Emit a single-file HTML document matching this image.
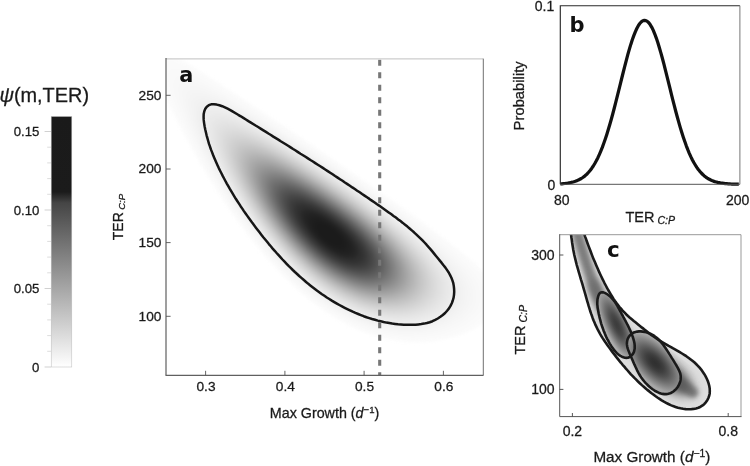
<!DOCTYPE html>
<html lang="en"><head><meta charset="utf-8"><title>Figure</title>
<style>html,body{margin:0;padding:0;background:#fff}svg{display:block;will-change:transform}text{stroke:#1a1a1a;stroke-width:.28px}.lb{stroke:none}</style></head>
<body>
<svg width="750" height="466" viewBox="0 0 750 466">
<defs>
<clipPath id="ca"><rect x="166.0" y="58.6" width="317.0" height="316.7"/></clipPath>
<filter id="bl" color-interpolation-filters="sRGB" x="-5%" y="-5%" width="110%" height="110%"><feGaussianBlur stdDeviation="1.6"/></filter>
<linearGradient id="cb" x1="0" y1="0" x2="0" y2="1">
<stop offset="0.0000" stop-color="#1a1a1a"/>
<stop offset="0.3012" stop-color="#1b1b1b"/>
<stop offset="0.3450" stop-color="#454545"/>
<stop offset="1.0000" stop-color="#ffffff"/>
</linearGradient>
</defs>
<rect width="750" height="466" fill="#fff"/>
<g id="colorbar">
<rect x="51.2" y="116.5" width="20.6" height="250.5" fill="url(#cb)" stroke="#bbb" stroke-width="0.5"/>
<line x1="44.6" x2="51" y1="367" y2="367" stroke="#bdbdbd" stroke-width="0.7"/>
<line x1="47.2" x2="51" y1="351.3" y2="351.3" stroke="#cfcfcf" stroke-width="0.7"/>
<line x1="47.2" x2="51" y1="335.6" y2="335.6" stroke="#cfcfcf" stroke-width="0.7"/>
<line x1="47.2" x2="51" y1="319.9" y2="319.9" stroke="#cfcfcf" stroke-width="0.7"/>
<line x1="47.2" x2="51" y1="304.2" y2="304.2" stroke="#cfcfcf" stroke-width="0.7"/>
<line x1="44.6" x2="51" y1="288.5" y2="288.5" stroke="#bdbdbd" stroke-width="0.7"/>
<line x1="47.2" x2="51" y1="272.8" y2="272.8" stroke="#cfcfcf" stroke-width="0.7"/>
<line x1="47.2" x2="51" y1="257.1" y2="257.1" stroke="#cfcfcf" stroke-width="0.7"/>
<line x1="47.2" x2="51" y1="241.4" y2="241.4" stroke="#cfcfcf" stroke-width="0.7"/>
<line x1="47.2" x2="51" y1="225.7" y2="225.7" stroke="#cfcfcf" stroke-width="0.7"/>
<line x1="44.6" x2="51" y1="210" y2="210" stroke="#bdbdbd" stroke-width="0.7"/>
<line x1="47.2" x2="51" y1="194.3" y2="194.3" stroke="#cfcfcf" stroke-width="0.7"/>
<line x1="47.2" x2="51" y1="178.6" y2="178.6" stroke="#cfcfcf" stroke-width="0.7"/>
<line x1="47.2" x2="51" y1="162.9" y2="162.9" stroke="#cfcfcf" stroke-width="0.7"/>
<line x1="47.2" x2="51" y1="147.2" y2="147.2" stroke="#cfcfcf" stroke-width="0.7"/>
<line x1="44.6" x2="51" y1="131.5" y2="131.5" stroke="#bdbdbd" stroke-width="0.7"/>
<g font-family="'Liberation Sans', Arial, sans-serif" font-size="13.2" fill="#1a1a1a" text-anchor="end">
<text x="39.4" y="371.6">0</text>
<text x="39.4" y="293.1">0.05</text>
<text x="39.4" y="214.6">0.10</text>
<text x="39.4" y="136.1">0.15</text>
</g>
<text x="-0.6" y="102" font-family="'Liberation Sans', Arial, sans-serif" font-size="19.9" fill="#1a1a1a"><tspan font-style="italic">ψ</tspan>(m,TER)</text>
</g>
<g id="panel-a">
<g clip-path="url(#ca)"><g filter="url(#bl)">
<path d="M426.5,342.1L417,342.5 407.5,342.1 398,341.1 388,339.4 379,337.2 369.5,334.2 359.5,330.4 350.5,326.3 341,321.3 332,316 322,309.3 313,302.7 304,295.4 295,287.5 285.6,278.6 276.4,269.1 266.4,258.1 256.3,246.1 245.7,232.6 235.7,219.1 225.7,204.6 216.2,190.1 206.3,174.1 196.3,157.1 185.3,137.1 175.1,117.6 165.7,98.1 158.1,81.1 153,68.1 149.9,58.1 149.2,54.6 148.9,51.6 149.3,49.1 150.1,47.6 151.5,46.7 153.5,46.5 156,46.8 159.5,47.9 168,51.8 180.5,58.8 198.5,69.8 222,84.9 254,105.9 292,131.3 332,158.4 369,183.9 399,204.9 424.5,223.3 444.5,238.3 460.6,251.1 473.4,262.1 483.1,271.6 488.7,278.1 493,284.1 495.9,289.6 497.7,295.1 498.2,300.1 498,302.6 497.4,305.1 496.6,307.6 495.4,310.1 492.4,314.6 487.6,319.6 481.1,324.6 473.5,329.2 465,333.2 456,336.5 446,339.2 436.5,341 426.5,342.1Z" fill="#fbfbfb"/>
<path d="M421,339.6L412,339.7 403,339.2 393.5,338 385,336.3 375.5,333.8 366.5,330.9 357.5,327.3 348,322.8 339,318 330,312.5 321,306.4 311.5,299.3 302.5,291.9 294,284.3 285,275.6 276.3,266.6 266.9,256.1 256.8,244.1 246.6,231.1 236.8,217.6 226.8,203.1 216.8,187.6 207.3,172.1 198.1,156.1 188.7,138.6 179.9,121.1 172.2,104.6 166.4,90.6 162.6,79.6 160.6,71.1 160.3,67.6 160.4,65.1 161,63.1 162,61.6 163.5,60.6 165.5,60.1 168,60.2 171.5,60.9 175.5,62.3 180,64.2 191,69.7 206,78.3 225,89.9 249,105.3 278,124.3 315.5,149.4 353.5,175.3 385,197.4 412,216.8 433.5,232.9 451,246.9 464.5,258.6 475.2,269.1 480.8,275.6 485.4,282.1 488.3,287.6 490.2,293.1 490.7,296.1 490.9,298.6 490.3,303.6 489.5,306.1 488.4,308.6 485.2,313.6 480.5,318.6 474.5,323.3 467,327.8 459,331.5 450,334.7 441,337 431,338.7 421,339.6Z" fill="#fafafa"/>
<path d="M423,337.1L414,337.5 405,337.2 396,336.3 387,334.8 378.5,332.8 369,329.8 360,326.4 351,322.4 342,317.8 332.5,312.2 323.5,306.3 314.5,299.7 305.5,292.5 296.5,284.6 288,276.6 279.1,267.6 269.1,256.6 259.4,245.1 248.7,231.6 239.2,218.6 229.2,204.1 219.8,189.6 210.7,174.6 201.8,159.1 192.7,142.1 184.8,126.1 177.8,110.6 172.8,98.1 169.6,88.1 168,80.1 167.8,76.6 168.1,74.1 168.8,72.1 169.9,70.6 171.5,69.5 173.5,69 176,69 179.5,69.6 183,70.6 187.5,72.3 198,77.2 212,84.9 229.5,95.3 250.5,108.4 276,124.9 310.5,147.8 346.5,172.3 378,194.3 404.5,213.4 425,228.8 442.5,242.7 456.9,255.1 467.6,265.6 473.8,272.6 478.3,278.6 481.8,284.6 484,290.1 485.1,295.6 485,300.6 483.8,305.6 481.6,310.1 477.7,315.1 475.2,317.6 472.2,320.1 466,324.4 458.5,328.3 450.5,331.5 441.5,334.2 432.5,336 423,337.1Z" fill="#f9f9f9"/>
<path d="M413,335.6L404.5,335.4 396,334.6 388,333.3 379,331.2 370.5,328.7 361.5,325.5 353,321.8 344,317.3 335.5,312.5 326.5,306.8 318,300.8 309.5,294.2 301,287 292.5,279.3 284,270.9 275.6,262.1 265.9,251.1 255.6,238.6 246.8,227.1 237.1,213.6 227.7,199.6 218.9,185.6 210.2,171.1 201.9,156.1 193.8,140.6 186.9,126.1 181.3,113.1 177.1,101.6 174.6,92.6 173.6,85.6 173.6,83.1 174,80.6 174.8,78.6 176,77.2 178,76.1 180,75.7 182.5,75.7 186,76.3 189.5,77.2 194,78.9 205,83.9 219,91.4 236,101.4 257,114.4 282.5,130.8 315,152.4 348,174.9 378,195.9 403.5,214.5 424.5,230.4 440.5,243.4 453.7,255.1 464.2,265.6 470.1,272.6 474.7,279.1 477.9,285.1 479.8,290.6 480.6,296.1 480.3,301.1 478.7,306.1 477.5,308.6 475.9,311.1 473.9,313.6 471.5,316.1 468.6,318.6 465.5,320.9 458.5,325.2 450.5,328.8 441.5,331.7 432.5,333.8 422.5,335.1 413,335.6Z" fill="#f8f8f8"/>
<path d="M419.5,333.6L411.5,333.9 403,333.7 394.5,332.8 385.5,331.3 377,329.2 367.5,326.3 358.5,322.8 350,319 341,314.3 332.5,309.3 323.5,303.4 315.5,297.5 307,290.8 298.5,283.4 289.6,275.1 281,266.4 271.1,255.6 261.8,244.6 252.3,232.6 242.7,219.6 233.3,206.1 224.2,192.1 215.7,178.1 207.2,163.1 199.2,148.1 192.2,133.6 186.3,120.1 182,108.6 179.4,99.6 178.6,95.6 178.2,92.1 178.2,89.1 178.6,86.6 179.3,84.6 180.5,83 182.5,81.7 184.5,81.1 187,81 190,81.4 193.5,82.2 197.5,83.5 207.5,87.7 220.5,94.4 235.5,102.9 254.5,114.5 276.5,128.4 307,148.4 338,169.3 367.5,189.9 394.5,209.3 415,224.8 432.5,238.8 446.7,251.1 457.5,261.6 463.8,268.6 468.8,275.1 472.5,281.1 475,286.6 476.4,292.1 476.8,297.1 476,302.1 475.2,304.6 474.1,307.1 472.6,309.6 470.7,312.1 466.3,316.6 460.5,321 453.5,324.9 445.5,328.2 437.5,330.7 429,332.5 419.5,333.6Z" fill="#f7f7f7"/>
<path d="M418,332.1L410,332.4 401.5,332.1 393,331.2 384.5,329.7 375.5,327.5 367,324.8 358,321.4 350,317.8 341.5,313.4 333,308.4 324.5,302.8 315.5,296.3 307,289.5 298.5,282.1 290,274.2 281.5,265.6 271.9,255.1 262.1,243.6 252.7,231.6 243.8,219.6 234.8,206.6 225.7,192.6 217.3,178.6 208.8,163.6 201.2,149.1 194.7,135.6 189.4,123.1 185.4,112.1 183,103.1 182.1,96.1 182.1,93.6 182.5,91.1 183.3,89.1 184.5,87.5 186.5,86.2 188.5,85.7 191,85.5 194,85.8 197.5,86.6 201.5,87.8 211.5,91.9 224,98.2 239.5,106.9 257.5,117.8 279,131.3 308,150.3 338.5,170.9 366.5,190.4 392,208.8 412.5,224.3 429.5,238 442.8,249.6 453.6,260.1 459.9,267.1 464.9,273.6 468.7,279.6 471.5,285.6 473,291.1 473.4,296.1 472.8,301.1 470.9,306.1 469.5,308.6 467.7,311.1 463.4,315.6 458,319.7 451.2,323.6 443.5,326.9 435.5,329.3 427,331.1 418,332.1Z" fill="#f6f6f6"/>
<path d="M418.5,330.6L410.5,331.1 402,330.9 393.5,330.1 385,328.6 376,326.5 367.5,323.9 359.5,320.9 350.5,316.9 341.5,312.3 333,307.3 324.5,301.7 316.5,295.9 308,289.2 300,282.3 291.5,274.4 283.2,266.1 273.5,255.6 263.6,244.1 254.1,232.1 245.2,220.1 236.2,207.1 227.8,194.1 219.3,180.1 211.3,166.1 203.8,151.6 197.3,138.1 192.3,126.1 188.6,115.6 186.3,107.1 185.7,103.6 185.4,100.1 185.6,97.1 186,94.9 186.7,93.1 188,91.4 190,90.1 192,89.5 194.5,89.4 197.5,89.6 201,90.4 205,91.6 214.5,95.4 226.5,101.3 241,109.3 258,119.4 279.5,132.8 306.5,150.4 335.5,169.9 362,188.3 387,206.3 407.5,221.8 424.5,235.4 438.6,247.6 450,258.6 456.4,265.6 461.4,272.1 465.3,278.1 468,283.6 469.8,289.1 470.5,294.1 470.1,299.1 468.6,304.1 467.4,306.6 465.8,309.1 461.9,313.6 456.5,318.1 450.5,321.7 443.5,324.9 435.5,327.6 427.5,329.4 418.5,330.6Z" fill="#f5f5f5"/>
<path d="M414.5,329.6L406.5,329.8 398.5,329.4 390,328.4 382,326.9 373.5,324.7 365,322 357,318.8 348.5,314.9 340,310.4 331.5,305.3 323.5,300 315,293.8 307,287.4 298.5,279.9 290.5,272.4 282.3,264.1 272.7,253.6 263.8,243.1 254.7,231.6 245.8,219.6 237.2,207.1 228.8,194.1 220.3,180.1 212.7,166.6 205.7,153.1 199.8,140.6 194.8,128.6 191.3,118.6 189.2,110.1 188.4,103.6 188.5,100.6 189,98.4 189.7,96.6 191,94.9 193,93.6 195,93 197.5,92.8 200.5,93 204,93.7 208,94.8 217.5,98.6 229.5,104.4 244,112.3 261,122.4 281,134.8 308,152.4 335.5,170.9 362,189.3 387,207.4 406.5,222.2 423.5,235.9 436.8,247.6 447.6,258.1 453.9,265.1 458.9,271.6 462.7,277.6 465.6,283.6 467.3,289.1 467.9,294.1 467.4,299.1 465.8,304.1 464.4,306.6 462.8,309.1 458.7,313.6 453.5,317.7 447,321.5 440,324.5 432,326.9 423.5,328.7 414.5,329.6Z" fill="#f4f4f4"/>
<path d="M411,328.6L403,328.6 395,328 387,326.9 379,325.2 370.5,322.8 362,319.9 353.5,316.3 346,312.7 338,308.3 329,302.8 321,297.3 313,291.3 305,284.7 297,277.6 289.2,270.1 281.4,262.1 271.9,251.6 262.6,240.6 253.7,229.1 245.3,217.6 236.7,205.1 228.7,192.6 221.3,180.1 213.7,166.6 206.8,153.1 201.3,141.1 196.8,130.1 193.6,120.6 191.7,112.6 191.1,106.1 191.2,103.6 191.7,101.6 192.5,99.6 193.6,98.1 195.5,96.8 197.5,96.1 200,95.8 203,96 206.5,96.6 210.5,97.7 220,101.3 231.5,106.8 246.5,115 264,125.3 283.5,137.4 309.5,154.3 337,172.8 362,190.3 385.5,207.3 404.5,221.8 421.6,235.6 435.2,247.6 445.8,258.1 452,265.1 456.9,271.6 460.7,277.6 463.4,283.6 465,289.1 465.5,294.1 464.9,299.1 464.2,301.6 463.1,304.1 461.7,306.6 460,309.1 455.7,313.6 450,317.8 443.5,321.3 436,324.3 428.5,326.4 420,327.9 411,328.6Z" fill="#f3f3f3"/>
<path d="M408,327.6L400.5,327.5 392.5,326.7 384,325.4 376,323.5 368.5,321.3 360,318.2 352,314.8 344,310.8 336,306.3 328,301.3 320,295.7 312.5,290 304.5,283.4 296.5,276.2 288.6,268.6 280.9,260.6 271.9,250.6 262.7,239.6 253.7,228.1 245.7,217.1 237.2,204.6 229.3,192.1 221.9,179.6 214.7,166.6 208.4,154.1 202.9,142.1 198.7,131.6 195.6,122.1 194,114.6 193.5,108.3 193.8,105.6 194.4,103.6 195.1,102.1 196.4,100.6 198,99.5 200.5,98.7 203,98.5 206,98.7 209.5,99.4 213.5,100.5 223.5,104.4 236,110.5 250.5,118.4 267.5,128.4 287.5,140.9 313.5,157.8 339.5,175.4 364.5,192.9 387,209.4 405,223.2 421,236.3 433.7,247.6 444.2,258.1 450.3,265.1 455.1,271.6 458.8,277.6 461.4,283.6 462.9,289.1 463.3,294.1 462.6,299.1 461.8,301.6 460.7,304.1 459.2,306.6 457.4,309.1 453,313.5 447.5,317.4 441,320.8 433.5,323.7 425.5,325.7 417,327 408,327.6Z" fill="#f2f2f2"/>
<path d="M407,326.6L399.5,326.4 392,325.8 384,324.5 376,322.7 368,320.3 360,317.4 352,313.9 344,310 336,305.5 328,300.5 320,294.9 312,288.8 304,282.1 296.5,275.4 288.9,268.1 281.2,260.1 272.2,250.1 263.9,240.1 255.3,229.1 246.2,216.6 237.7,204.1 230.1,192.1 222.7,179.6 216.1,167.6 209.8,155.1 204.8,144.1 200.7,133.6 197.8,124.6 196.1,117.1 195.7,111.1 195.9,108.6 196.5,106.4 197.4,104.6 198.5,103.3 200.2,102.1 202.5,101.3 205,101 208,101.2 211.5,101.8 215.5,102.9 225,106.5 236.5,111.9 250.5,119.4 267.5,129.3 287,141.4 311.5,157.3 337.5,174.8 362.5,192.3 384.5,208.4 402.5,222.2 418.5,235.3 431.2,246.6 441.7,257.1 447.9,264.1 452.8,270.6 456.5,276.6 459.2,282.6 460.8,288.1 461.2,293.6 460.6,298.6 459.8,301.1 458.7,303.6 455.7,308.1 451.4,312.6 445.9,316.6 439.5,320 432,322.8 424,324.8 415.5,326.1 407,326.6Z" fill="#f1f1f1"/>
<path d="M408.5,325.6L401,325.6 393.5,325.1 385.5,323.9 378,322.3 370.5,320.3 362,317.4 353.5,313.9 346,310.3 338,305.9 330.5,301.3 322.5,295.9 314.5,290 306.5,283.5 298.5,276.5 290.5,268.8 282.9,261.1 274.3,251.6 265.4,241.1 256.8,230.1 248.3,218.6 239.8,206.1 231.8,193.6 224.7,181.6 217.8,169.1 211.7,157.1 206.7,146.1 202.6,135.6 199.7,126.6 198.1,119.1 197.8,113.1 198.1,110.6 198.6,108.6 199.5,106.9 200.6,105.6 202.5,104.3 204.5,103.6 207,103.3 210,103.5 213.5,104.1 217.5,105.1 226.5,108.4 238,113.8 252,121.2 268.5,130.8 286.5,141.9 310.5,157.4 335,173.8 359.5,190.9 381.5,207 399.5,220.7 415.5,233.8 428.3,245.1 439,255.6 445.2,262.6 450.2,269.1 454.3,275.6 456.9,281.1 458.7,286.6 459.3,291.6 459,296.6 458.4,299.1 457.5,301.6 456.3,304.1 454.7,306.6 451,310.7 446,314.8 440,318.2 433,321.2 425.5,323.4 417,324.9 408.5,325.6Z" fill="#efefef"/>
<path d="M404.5,323.1L397.5,323 390,322.3 382,321 374.5,319.3 367,317 359.5,314.3 351.5,310.9 343.5,306.9 335.5,302.4 328.5,298 321,292.8 313,286.7 305.5,280.5 298,273.9 290.5,266.6 283.2,259.1 274.6,249.6 266.2,239.6 258.3,229.6 250.3,218.6 242.7,207.6 234.8,195.1 227.7,183.1 221.4,171.6 215.6,160.1 211,149.6 207.3,140.1 204.7,131.6 203.3,124.6 203.1,119.1 203.4,116.6 204,114.7 204.8,113.1 206,111.6 208,110.3 210,109.6 212.5,109.3 215.5,109.4 219,110 222.5,110.8 231.5,114 242.5,119 255.5,125.8 270.5,134.4 288.5,145.3 310.5,159.4 335,175.8 358,191.9 378.5,206.9 396,220.4 410.9,232.6 423.3,243.6 433.9,254.1 440.1,261.1 445.1,267.6 448.9,273.6 451.9,279.6 453.7,285.1 454.4,290.6 454,295.6 452.7,300.1 450.2,304.6 446.3,309.1 441.3,313.1 435.5,316.4 428.5,319.2 421,321.3 413,322.6 404.5,323.1Z" fill="#ececec"/>
<path d="M408,320.6L401,320.9 393.5,320.6 386,319.7 378.5,318.3 371,316.4 363,313.8 355.5,310.8 348,307.4 340,303.2 332.5,298.8 325,293.9 317.5,288.4 310,282.5 302,275.6 294.5,268.7 287.4,261.6 278.6,252.1 270.4,242.6 262.4,232.6 254.1,221.6 246.1,210.1 238.7,198.6 231.8,187.1 225.7,176.1 220.2,165.1 215.2,154.1 211.7,145.1 209.2,136.6 207.8,129.6 207.6,124.1 207.9,121.6 208.5,119.7 209.3,118.1 210.5,116.6 212.5,115.3 214.4,114.6 217,114.2 219.5,114.3 223,114.8 226.5,115.6 235,118.4 245.5,123 258,129.4 272,137.3 288,146.9 308.5,159.9 331,174.8 352,189.4 372,203.9 389.5,217.3 404.5,229.5 417.2,240.6 427.5,250.6 433.9,257.6 439.2,264.1 443.3,270.1 446.6,276.1 448.8,281.6 450,287.1 450.1,292.1 449.3,296.6 447.5,301.1 444.3,305.6 440.5,309.3 435.5,312.8 429.5,315.7 423,318 415.5,319.7 408,320.6Z" fill="#e9e9e9"/>
<path d="M406.5,318.6L399.5,318.9 392.5,318.6 385.5,317.8 378,316.5 371,314.7 363.5,312.3 356,309.4 348,305.8 340.5,301.9 333,297.5 325,292.3 318,287.2 310.5,281.3 303,274.9 296,268.4 288.6,261.1 280.2,252.1 272.4,243.1 264.3,233.1 256.4,222.6 248.7,211.6 241.9,201.1 235.2,190.1 228.8,178.6 223.2,167.6 218.8,157.6 215.3,148.6 212.9,140.6 211.7,134.1 211.4,128.6 211.7,126.1 212.3,124.1 213,122.6 214.2,121.1 216,119.8 218,119 220.5,118.5 223,118.5 226,118.8 229.5,119.5 237.5,122.1 247.5,126.3 259.5,132.2 272.5,139.4 288.5,148.9 308.5,161.5 329.5,175.4 350.5,189.9 369,203.3 386,216.3 401,228.5 413.1,239.1 423.4,249.1 429.9,256.1 435.2,262.6 439.4,268.6 442.7,274.6 445,280.1 446.2,285.1 446.5,290.1 445.9,294.6 444.3,299.1 441.4,303.6 437.5,307.6 433,310.8 427.5,313.7 421,316 414,317.7 406.5,318.6Z" fill="#e6e6e6"/>
<path d="M399,317.1L392.5,316.9 385.5,316.2 378.5,315 371.5,313.3 364,311 357,308.4 350,305.3 343,301.8 336,297.9 328.5,293.2 321.5,288.4 314,282.7 307,276.9 299.5,270.2 292.6,263.6 285.8,256.6 277.6,247.6 270,238.6 262.2,228.6 255.3,219.1 248.1,208.6 241.7,198.6 235.3,187.6 229.9,177.6 224.7,167.1 220.9,158.1 217.8,149.6 215.9,142.6 214.9,136.6 214.9,131.6 215.2,129.6 215.8,127.6 216.6,126.1 217.9,124.6 219.5,123.5 221.5,122.7 224,122.3 227,122.3 230.5,122.7 234,123.5 242.5,126.3 253,130.9 265,136.9 279,144.8 294,153.7 313,165.8 332.5,178.8 352,192.4 371,206.3 387,218.7 401,230.3 412.5,240.6 422.5,250.6 428.3,257.1 433.3,263.6 437.3,269.6 440.3,275.6 442.3,281.1 443.2,286.1 443.1,291.1 442.1,295.6 439.9,300.1 436.8,304.1 432.5,307.8 427,311.1 421,313.6 414,315.5 406.5,316.7 399,317.1Z" fill="#e3e3e3"/>
<path d="M404.5,315.1L398,315.4 391.5,315.3 384.5,314.6 377.5,313.3 370,311.5 363,309.3 355.5,306.4 348.5,303.3 341,299.4 334,295.4 327,290.9 319,285.2 311.5,279.4 304.5,273.4 297.5,267 290.5,260.1 282.5,251.6 274.6,242.6 267.3,233.6 259.8,223.6 252.7,213.6 245.9,203.1 239.2,192.1 233.7,182.1 228.7,172.1 224.5,162.6 221.3,154.1 219.1,146.6 218,140.1 217.9,135.1 218.8,131.1 219.6,129.6 220.8,128.1 222.5,126.8 224.5,126 227,125.6 229.5,125.5 232.5,125.8 236,126.5 243.5,128.8 253,132.7 264.5,138.3 277.5,145.4 292,153.9 309.5,164.8 328.5,177.4 346.5,189.8 364.5,202.8 381,215.4 394.5,226.4 406.7,237.1 416.5,246.6 422.6,253.1 428,259.6 432.4,265.6 435.9,271.6 438.4,277.1 439.8,282.1 440.4,287.1 440,291.6 438.6,296.1 436.4,300.1 432.9,304.1 428.5,307.5 423.5,310.3 417.5,312.6 411,314.2 404.5,315.1Z" fill="#e0e0e0"/>
<path d="M402.5,313.6L396,313.9 389.5,313.7 383,313 376,311.7 369,309.9 362.5,307.9 355,305 348,301.8 340.5,298 333.5,293.9 326.5,289.4 319.5,284.4 312.5,278.9 305.5,273 298.5,266.7 291.3,259.6 283.3,251.1 275.8,242.6 268.1,233.1 261.3,224.1 254.3,214.1 247.7,204.1 241.4,193.6 235.8,183.6 230.8,173.6 227.1,165.1 224.1,157.1 221.9,149.6 220.8,143.1 220.7,138.1 221,136.1 221.6,134.1 222.4,132.6 223.5,131.2 225,130 227,129.1 229.5,128.6 232,128.5 235,128.8 238.5,129.5 246,131.7 255.5,135.5 266.5,140.8 278.5,147.3 292.5,155.5 310,166.4 327.5,177.9 345.5,190.3 363,203 378.5,214.8 392,225.8 403.8,236.1 413.6,245.6 419.7,252.1 425.2,258.6 429.5,264.6 432.8,270.1 435.4,275.6 437,280.6 437.7,285.6 437.4,290.1 436.2,294.6 434,298.8 430.8,302.6 426.5,306.1 421.5,308.8 415.7,311.1 409.5,312.7 402.5,313.6Z" fill="#dddddd"/>
<path d="M402,312.1L396,312.5 389.5,312.3 383,311.7 376,310.4 369,308.7 362,306.5 355,303.8 348,300.7 340.5,296.8 333.5,292.8 326.5,288.2 319.5,283.2 312.5,277.8 306,272.3 299,265.9 292.5,259.6 284.9,251.6 277.4,243.1 269.6,233.6 262.8,224.6 255.7,214.6 249.8,205.6 243.7,195.6 238.1,185.6 233.3,176.1 229.4,167.1 226.4,159.1 224.4,152.1 223.3,146.1 223.2,141.1 224.1,137.1 225,135.3 226,134 227.5,132.8 229.5,131.9 231.5,131.5 234,131.3 237,131.5 240,132 248,134.2 257,137.8 267.5,142.8 279,148.9 293,157 309,166.9 326.5,178.3 344,190.3 360.5,202.3 375.5,213.7 389.5,225 401,235.1 410.9,244.6 417,251.1 422.5,257.6 426.9,263.6 430.2,269.1 432.8,274.6 434.4,279.6 435.2,284.6 435,289.1 433.8,293.6 431.8,297.6 428.9,301.1 424.8,304.6 420,307.4 414.5,309.6 408.5,311.2 402,312.1Z" fill="#dadada"/>
<path d="M395.5,311.1L389.5,311 383,310.4 376.5,309.4 370,307.8 363.5,305.9 356.5,303.4 350.5,300.8 343.5,297.4 337,293.8 330,289.5 323,284.7 316.5,279.9 309.5,274.2 303,268.5 296.5,262.4 289.7,255.6 282.4,247.6 275.1,239.1 268.3,230.6 261.6,221.6 255.4,212.6 249.3,203.1 243.7,193.6 238.8,184.6 234.4,175.6 230.8,167.1 228.1,159.6 226.4,153.1 225.6,147.6 225.6,143.1 226,141 226.7,139.1 227.5,137.6 228.5,136.5 230,135.3 232,134.4 234.5,133.9 237,133.8 243,134.6 250.5,136.8 259.5,140.4 270,145.3 282,151.8 296,159.9 312,169.8 329.5,181.4 346,192.8 362.5,204.8 377.5,216.4 390,226.7 401.1,236.6 410.7,246.1 416.6,252.6 421.9,259.1 426,265.1 429.1,270.6 431.3,276.1 432.6,281.1 432.9,285.6 432.4,290.1 430.8,294.6 428.1,298.6 424.6,302.1 420.2,305.1 415,307.5 409,309.4 402.5,310.6 395.5,311.1Z" fill="#d7d7d7"/>
<path d="M398.5,309.6L392.5,309.8 386,309.6 379.5,308.8 373,307.5 366.5,305.8 359.5,303.5 353,300.9 346.5,297.9 339.5,294.2 333,290.4 326,285.8 319.5,281.2 312.5,275.7 306,270.2 299.5,264.2 293,257.9 285.6,250.1 278.6,242.1 271.7,233.6 264.8,224.6 258.1,215.1 252.2,206.1 246.2,196.1 241.2,187.1 236.8,178.1 233.3,170.1 230.6,162.6 228.8,156.1 227.9,150.6 227.8,145.6 228.2,143.6 228.8,141.6 230.5,139 232,137.8 234,136.9 236,136.4 238.5,136.2 241.5,136.4 244.5,136.9 251.5,138.7 260,142 270.5,146.8 282,152.9 295,160.3 310.5,169.9 326.5,180.3 342.5,191.3 359,203.2 373.5,214.4 386.5,225 397.4,234.6 406.8,243.6 412.9,250.1 417.9,256.1 422.3,262.1 425.7,267.6 428.3,273.1 429.9,278.1 430.7,282.6 430.6,287.1 429.6,291.6 427.6,295.6 424.8,299.1 421,302.3 416.3,305.1 411,307.2 405,308.7 398.5,309.6Z" fill="#d4d4d4"/>
<path d="M393,308.6L387,308.5 381,307.9 375,306.9 368.5,305.3 362,303.3 355.5,300.9 349.5,298.4 342.5,294.9 336,291.3 329.5,287.2 323,282.8 316.5,277.9 310,272.6 303.5,267 297,260.8 290.8,254.6 283.9,247.1 276.6,238.6 270.3,230.6 263.6,221.6 257.4,212.6 251.6,203.6 246.3,194.6 241.8,186.1 237.7,177.6 234.6,170.1 232.1,163.1 230.6,157.1 229.9,151.6 230,147.1 231,143.6 232.7,141.1 234,140.1 236,139.1 238,138.6 240.5,138.4 243.5,138.6 246.5,139.1 254,141.1 262.5,144.4 273,149.3 284.5,155.3 297.5,162.8 313,172.4 329,182.9 345.5,194.4 360.5,205.3 374.5,216.2 387.1,226.6 397.7,236.1 406.8,245.1 412.7,251.6 417.5,257.6 421.7,263.6 424.8,269.1 427.1,274.6 428.4,279.6 428.7,284.1 428.2,288.6 426.8,292.6 424.3,296.6 420.9,300.1 416.5,303 411.5,305.4 406,307 399.5,308.2 393,308.6Z" fill="#d1d1d1"/>
<path d="M397.5,307.1L391.5,307.4 385.5,307.3 379,306.5 373,305.4 366.5,303.8 360,301.7 353.5,299.2 347,296.3 340.5,292.9 333.5,288.8 327,284.6 320.5,280 314,275 307.5,269.6 301,263.7 294.5,257.4 287.1,249.6 280.1,241.6 273.1,233.1 266.6,224.6 260.3,215.6 254.7,207.1 249.3,198.1 244.3,189.1 240.2,180.6 236.7,172.6 234.3,165.6 232.6,159.1 231.8,153.6 232,149.1 233,145.6 234.8,143.1 236.1,142.1 238,141.2 240,140.7 242.5,140.5 248,141.1 255,142.9 263,145.8 273,150.4 283.5,155.8 296,162.9 310.5,171.7 326,181.8 341.5,192.4 356,202.9 369.5,213.2 382,223.4 392.6,232.6 402,241.6 408.2,248.1 413.3,254.1 417.8,260.1 421.3,265.6 423.8,270.6 425.7,275.6 426.6,280.1 426.8,284.6 426,289.1 424.3,293.1 421.8,296.6 418.5,299.7 414,302.5 409.2,304.6 403.5,306.2 397.5,307.1Z" fill="#cecece"/>
<path d="M395,306.1L389.5,306.3 383.5,306 377.5,305.3 371,304 365,302.4 358.5,300.2 352,297.7 345.5,294.6 339,291.2 332.5,287.4 325.5,282.8 319.5,278.4 313,273.3 306.5,267.8 294.2,256.1 287.1,248.6 280.1,240.6 273.2,232.1 267.1,224.1 261.2,215.6 255.6,207.1 250.2,198.1 245.8,190.1 241.9,182.1 238.7,174.6 236.2,167.6 234.5,161.1 233.7,156.1 233.8,151.6 234.6,148.1 235.4,146.6 236.5,145.2 237.9,144.1 239.5,143.3 241.5,142.7 244,142.5 249.5,143 256.5,144.7 264.5,147.7 274,152 284.5,157.3 297,164.4 311.5,173.2 326.5,183 341.5,193.3 356,203.8 369,213.8 381.5,224 391.9,233.1 400.7,241.6 406.9,248.1 411.9,254.1 416.4,260.1 419.8,265.6 422.3,270.6 424,275.6 424.9,280.1 424.9,284.6 424.1,288.6 422.4,292.6 419.8,296.1 416,299.4 411.5,302 406.5,304 401,305.4 395,306.1Z" fill="#cbcbcb"/>
<path d="M393,305.1L387.5,305.2 381.5,304.8 375.5,304 369.5,302.7 363,300.9 357,298.8 351,296.4 344.5,293.3 338,289.8 331.5,285.9 325.5,281.9 319,277.2 313,272.5 306.5,266.9 300.2,261.1 294.1,255.1 287.5,248.1 280.9,240.6 274.8,233.1 268.3,224.6 262.3,216.1 256.8,207.6 251.7,199.1 247,190.6 243.1,182.6 240.2,175.6 237.7,168.6 236.2,162.6 235.5,157.6 235.6,153.1 236.5,149.6 238.2,147.1 239.5,146.1 241.5,145.1 243.5,144.6 245.5,144.4 251,144.8 258,146.5 266,149.4 275.5,153.7 286.5,159.4 298,165.9 312,174.4 326.5,183.8 341,193.8 355.5,204.3 368.5,214.3 380,223.7 390.7,233.1 399.5,241.6 405.6,248.1 410.6,254.1 414.7,259.6 418.1,265.1 420.5,270.1 422.3,275.1 423.1,279.6 423.2,284.1 422.4,288.1 420.5,292.1 417.8,295.6 414.3,298.6 410,301.1 405,303 399.5,304.4 393,305.1Z" fill="#c8c8c8"/>
<path d="M391.5,304.1L386,304.2 380.5,303.8 375,303 369,301.7 362.5,299.9 356.5,297.8 350.5,295.3 344,292.2 337.5,288.7 331,284.8 319,276.4 312.5,271.2 306.5,266.1 294.5,254.6 287.9,247.6 281.3,240.1 274.8,232.1 268.8,224.1 262.8,215.6 257.6,207.6 252.8,199.6 248.2,191.1 244.6,183.6 241.6,176.6 239.4,170.1 237.8,164.1 237.2,159.1 237.3,154.6 238.4,151.1 240,148.8 241.5,147.7 243,146.9 245,146.4 247.5,146.2 253,146.6 260,148.4 268,151.4 277,155.4 287.5,160.8 299,167.3 313,175.8 327,184.9 341.5,194.9 355,204.7 367.5,214.3 379.4,224.1 389.6,233.1 398.3,241.6 404.4,248.1 409.4,254.1 413.4,259.6 416.7,265.1 419.1,270.1 420.8,275.1 421.5,279.6 421.5,283.6 420.6,287.6 418.8,291.6 416,295.1 412.5,298 408,300.5 403,302.3 397.5,303.5 391.5,304.1Z" fill="#c5c5c5"/>
<path d="M390.5,303.1L385,303.1 379.5,302.7 374,301.9 368,300.6 362,298.9 356,296.8 350,294.3 343.5,291.2 337.5,287.9 331,284 325,280 318.5,275.2 306.5,265.3 294.8,254.1 288.2,247.1 281.7,239.6 275.6,232.1 269.9,224.6 264.3,216.6 258.7,208.1 253.7,199.6 249.6,192.1 246,184.6 243,177.6 240.8,171.1 239.4,165.6 238.8,160.6 238.9,156.6 239.8,153.1 241.5,150.6 243,149.4 244.8,148.6 246.7,148.1 249,147.9 254.5,148.3 261,149.9 269,152.8 278,156.9 288,162 299.5,168.4 312.5,176.3 326.5,185.4 340.5,195 354,204.8 366.5,214.4 378,223.8 387.9,232.6 396.7,241.1 402.3,247.1 407.4,253.1 411.4,258.6 414.8,264.1 417.3,269.1 419,274.1 419.9,278.6 419.9,283.1 419,287.1 417.1,291.1 414.5,294.3 411.1,297.1 407,299.4 402,301.3 396.5,302.5 390.5,303.1Z" fill="#c2c2c2"/>
<path d="M390,302.1L385,302.2 379.5,301.8 373.5,301 368,299.8 362,298.1 356,296 349.5,293.3 343.5,290.4 337,286.9 331,283.3 325,279.2 319,274.9 307,265 295.1,253.6 288.5,246.6 282.4,239.6 276.3,232.1 270.3,224.1 264.7,216.1 259.8,208.6 254.8,200.1 250.7,192.6 247.4,185.6 244.4,178.6 242.2,172.1 240.9,166.6 240.3,161.6 240.6,157.6 241.5,154.5 243.2,152.1 244.5,151.1 246.5,150.2 250.5,149.5 256,150 262.5,151.6 270,154.3 279,158.3 289,163.3 300.5,169.8 313,177.4 327,186.4 340.5,195.7 354,205.5 366,214.8 377,223.8 386.9,232.6 395.1,240.6 400.7,246.6 405.8,252.6 409.9,258.1 413.3,263.6 415.8,268.6 417.5,273.6 418.3,278.1 418.4,282.1 417.6,286.1 415.8,290.1 413.5,293.1 410,296.1 406,298.4 401,300.3 395.5,301.5 390,302.1Z" fill="#bfbfbf"/>
<path d="M390,301.1L385,301.3 379.5,300.9 374,300.2 368,299 362,297.3 356,295.2 350,292.8 344,290 338,286.7 332,283.2 326,279.2 320,274.9 308,265.1 296.5,254.2 289.8,247.1 283.6,240.1 277.9,233.1 272.1,225.6 266.8,218.1 261.2,209.6 256.7,202.1 252.6,194.6 249.2,187.6 246.2,180.6 243.9,174.1 242.5,168.6 241.9,163.6 242,159.6 242.8,156.6 243.6,155.1 244.5,153.9 246,152.7 247.5,151.9 249.5,151.4 251.5,151.1 256.5,151.4 263,152.9 270.5,155.5 279,159.2 288.5,163.9 299.5,170 312,177.5 325,185.8 339,195.4 351.5,204.4 364,214 375,223 384.8,231.6 393.1,239.6 398.8,245.6 403.9,251.6 408,257.1 411.2,262.1 413.8,267.1 415.7,272.1 416.7,276.6 416.9,280.6 416.4,284.6 414.8,288.6 412.5,291.9 409.5,294.7 405.6,297.1 401,299 396,300.3 390,301.1Z" fill="#bcbcbc"/>
<path d="M390,300.1L385,300.3 379.5,300.1 374,299.4 368.5,298.3 363,296.9 357,294.9 351,292.5 345,289.7 339,286.6 333,283.1 327,279.2 321,274.9 315,270.3 309,265.2 297.5,254.4 291,247.6 284.7,240.6 279,233.6 273.2,226.1 267.9,218.6 262.6,210.6 257.8,202.6 253.9,195.6 250.2,188.1 247.5,181.6 245.4,175.6 244,170.1 243.3,165.1 243.5,161.1 244.5,157.6 246,155.4 247.5,154.2 249,153.5 251,152.9 253,152.7 258,152.9 264,154.3 271.5,156.8 279.5,160.3 289,165 299.5,170.7 311.5,177.9 324.5,186.2 338,195.4 350.5,204.4 362,213.2 373,222.1 382.7,230.6 391.1,238.6 396.8,244.6 401.6,250.1 405.8,255.6 409.5,261.1 412.1,266.1 414.1,271.1 415.2,275.6 415.5,279.6 415,283.6 413.6,287.6 411.5,290.7 408.6,293.6 404.8,296.1 400.5,298 395.5,299.3 390,300.1Z" fill="#b9b9b9"/>
<path d="M390,299.1L385,299.4 380,299.3 374.5,298.7 369,297.6 363.5,296.3 357.5,294.3 351.5,292 345.5,289.3 340,286.4 334,283 328,279.2 322,275 316,270.4 310,265.4 298.4,254.6 292.1,248.1 285.9,241.1 279.7,233.6 274.3,226.6 268.9,219.1 263.9,211.6 259.4,204.1 255.2,196.6 251.8,189.6 248.8,182.6 246.7,176.6 245.3,171.1 244.8,166.6 244.9,162.6 245.9,159.1 247.5,156.8 249,155.6 250.5,154.9 252.5,154.4 254.5,154.1 259.5,154.4 265.5,155.8 273,158.4 281,161.8 290,166.3 300,171.8 312,178.9 324.5,186.9 337,195.4 349.5,204.3 361.5,213.5 372,222.1 381.2,230.1 389.6,238.1 395.4,244.1 400.1,249.6 404.4,255.1 407.7,260.1 410.5,265.1 412.6,270.1 413.7,274.6 414.1,278.6 413.7,282.6 412.5,286.3 410.5,289.6 407.6,292.6 404,295.1 400,296.9 395,298.4 390,299.1Z" fill="#b6b6b6"/>
<path d="M390.5,298.1L385.5,298.5 380.5,298.4 375,297.9 369.5,297 364,295.7 358,293.8 352,291.5 346,288.8 340,285.8 334,282.3 322.5,274.6 311,265.5 299.5,254.9 293.3,248.6 287,241.6 281.2,234.6 275.3,227.1 269.6,219.1 264.6,211.6 260.1,204.1 256.3,197.1 252.8,190.1 250.1,183.6 248,177.6 246.7,172.1 246.1,167.6 246.3,163.6 247.2,160.6 249,158.1 250.2,157.1 252,156.3 255.5,155.6 260.5,155.8 266.5,157.1 273.5,159.5 281.5,162.9 290.5,167.3 300.5,172.8 311.5,179.3 324,187.2 336,195.3 348.5,204.3 360,213 370,221.1 379.2,229.1 387.7,237.1 393.5,243.1 398.3,248.6 402.6,254.1 406,259.1 408.9,264.1 410.8,268.6 412.2,273.1 412.7,277.1 412.5,281.1 411.6,284.6 409.8,288.1 407.2,291.1 404,293.6 400,295.6 395.5,297.1 390.5,298.1Z" fill="#b3b3b3"/>
<path d="M385.5,297.6L380.5,297.6 375.5,297.2 370.5,296.4 365,295.2 359,293.4 353.5,291.4 348,289.1 342.5,286.4 337,283.4 331,279.8 319.5,271.7 308.5,262.7 297.4,252.1 291.2,245.6 285.5,239.1 274.9,225.6 269.6,218.1 264.7,210.6 260.2,203.1 256.7,196.6 253.6,190.1 251,183.6 249.1,178.1 248,173.1 247.4,168.6 247.6,165.1 248.5,162 250.2,159.6 251.5,158.5 253,157.8 255,157.2 257,157 262,157.2 268,158.6 275,161 283,164.4 292,168.8 302,174.3 313,180.9 325.5,188.9 338,197.4 350.5,206.4 361.5,214.9 371.5,223.2 380.5,231.1 388.7,239.1 394.3,245.1 399,250.6 403,256.1 406.2,261.1 408.7,266.1 410.3,270.6 411.2,274.6 411.4,278.6 410.8,282.6 409.3,286.1 407,289.4 404,292 400.5,294.1 396,295.9 391,297 385.5,297.6Z" fill="#b0b0b0"/>
<path d="M386.5,296.6L382,296.8 377,296.6 372,295.9 366.5,294.8 361,293.4 355.5,291.5 350,289.3 344,286.5 338,283.3 332.5,280.1 321,272.2 310,263.3 299,253 292.8,246.6 287.1,240.1 281.7,233.6 276.3,226.6 271.3,219.6 266.3,212.1 262.1,205.1 258.3,198.1 255.1,191.6 252.4,185.1 250.5,179.6 249.3,174.6 248.8,170.1 249,166.1 249.9,163.1 251.5,160.9 253,159.7 254.3,159.1 258,158.3 263,158.6 269,159.9 276,162.2 283.5,165.4 292.5,169.8 302,175 313,181.5 324.5,188.8 336.5,197 348,205.2 358.5,213.2 369,221.8 377.9,229.6 386.3,237.6 392,243.6 396.8,249.1 401,254.6 404.3,259.6 406.9,264.6 408.7,269.1 409.7,273.1 410.1,277.1 409.7,281.1 408.5,284.6 406.5,287.8 403.8,290.6 400.5,292.8 396.4,294.6 391.5,296 386.5,296.6Z" fill="#adadad"/>
<path d="M387.5,295.6L383,295.9 378,295.8 373,295.3 367.5,294.4 362,293 356.5,291.2 350.5,288.9 345,286.4 334,280.4 328.5,276.9 322.5,272.7 311.5,264 300.3,253.6 294,247.1 288.1,240.6 282.7,234.1 277.3,227.1 272.3,220.1 267.3,212.6 263.1,205.6 259.2,198.6 256.1,192.1 253.4,185.6 251.6,180.1 250.5,175.1 250,170.6 250.3,167.1 251.4,164.1 252.9,162.1 255.5,160.5 257.5,159.9 259.5,159.6 264.5,159.9 270,161.1 277,163.5 284.5,166.6 293,170.8 302.5,176 313.5,182.5 325,189.8 336,197.2 347.5,205.5 358.5,213.9 367.9,221.6 376.5,229.1 384.5,236.6 389.8,242.1 394.6,247.6 398.9,253.1 402.3,258.1 404.9,262.6 406.9,267.1 408.2,271.6 408.8,275.6 408.6,279.6 407.7,283.1 406,286.2 403.5,289.1 400.2,291.6 396.5,293.4 392,294.8 387.5,295.6Z" fill="#aaaaaa"/>
<path d="M382.5,295.1L378,295.1 373,294.6 368,293.7 362.5,292.4 357.5,290.9 352,288.8 346.5,286.5 341,283.7 330,277.2 319,269.4 308.5,260.7 298,250.6 292.3,244.6 286.6,238.1 276.5,225.1 271.9,218.6 267.3,211.6 263.2,204.6 259.7,198.1 256.9,192.1 254.4,186.1 252.7,180.6 251.7,176.1 251.3,172.1 251.5,168.6 252.5,165.6 254,163.5 255.5,162.3 257,161.6 260.5,160.9 265,161.1 271,162.4 278,164.7 285.5,167.9 294.5,172.3 304,177.5 315.5,184.3 326.5,191.4 338,199.3 349,207.2 359.5,215.4 369,223.2 377.9,231.1 385.6,238.6 390.7,244.1 395.3,249.6 399.1,254.6 402.2,259.6 404.8,264.6 406.5,269.1 407.4,273.1 407.6,277.1 407.1,280.6 405.7,284.1 403.5,287.3 400.5,289.9 396.8,292.1 392.5,293.7 387.5,294.7 382.5,295.1Z" fill="#a7a7a7"/>
<path d="M384.5,294.1L380,294.3 375,294.1 370,293.4 365,292.4 359.5,290.9 354.5,289.2 349,286.9 343.5,284.4 332.5,278.2 321.5,270.7 311,262.3 300.5,252.5 289.4,240.6 278.9,227.6 273.9,220.6 269.2,213.6 265.3,207.1 261.7,200.6 258.7,194.6 256.2,188.6 254.3,183.1 253.1,178.1 252.5,173.6 252.7,170.1 253.6,167.1 255,164.9 256,164.1 257.7,163.1 259.5,162.5 261.5,162.2 266,162.4 271.5,163.5 278,165.5 285,168.4 293.5,172.4 302.5,177.3 313,183.4 324,190.4 335,197.8 346.5,206 357,214 366.5,221.8 374.9,229.1 382.7,236.6 388,242.1 392.8,247.6 396.7,252.6 400.1,257.6 402.9,262.6 404.8,267.1 405.9,271.1 406.4,275.1 406.2,278.6 405.2,282.1 403.5,285.2 400.9,288.1 397.5,290.5 394,292.1 389.5,293.4 384.5,294.1Z" fill="#a4a4a4"/>
<path d="M385.5,293.1L381,293.5 376.5,293.4 371.5,292.9 366.5,292 361.5,290.8 356,289.1 350.5,287 345,284.5 339.5,281.7 334,278.5 323,271.2 312.5,262.9 301.8,253.1 296,247.2 290.5,241.1 285,234.6 279.9,228.1 270.8,215.1 266.8,208.6 262.9,201.6 259.9,195.6 257.4,189.6 255.5,184.1 254.3,179.1 253.7,174.6 253.9,171.1 254.9,168.1 256.2,166.1 257.5,165.1 259,164.3 262.5,163.5 267,163.6 272,164.5 278.5,166.5 285.5,169.4 294,173.4 302.5,177.9 312.5,183.7 323,190.3 334,197.7 345,205.5 355,213.1 364.3,220.6 373,228.1 380.4,235.1 385.8,240.6 390.7,246.1 394.7,251.1 398.2,256.1 401.1,261.1 403.2,265.6 404.4,269.6 405.1,273.6 405.1,277.1 404.4,280.6 403,283.6 400.6,286.6 397.5,289.1 394,290.9 390,292.3 385.5,293.1Z" fill="#a1a1a1"/>
<path d="M382,292.6L377.5,292.7 373,292.4 368,291.6 363,290.5 357.5,288.9 352.5,287.1 342,282.4 331.5,276.4 321,269.1 310.5,260.6 300.4,251.1 289.8,239.6 279.8,227.1 270.8,214.1 266.9,207.6 263.3,201.1 260.4,195.1 258.2,189.6 256.4,184.1 255.3,179.6 254.9,175.6 255.1,172.1 256,169.4 257.5,167.2 260,165.5 263.5,164.7 268,164.8 273.5,165.8 280,167.9 287,170.7 295.5,174.8 304,179.4 314,185.2 324.5,191.9 335.5,199.3 346,206.8 356,214.5 365.3,222.1 373.8,229.6 381.1,236.6 386.3,242.1 391.1,247.6 394.9,252.6 398.2,257.6 400.7,262.1 402.5,266.6 403.6,270.6 404,274.6 403.7,278.1 402.6,281.6 400.7,284.6 398.3,287.1 395,289.3 391,291 386.5,292.1 382,292.6Z" fill="#9e9e9e"/>
<path d="M383.5,291.6L379,291.9 374.5,291.8 370,291.3 365,290.4 360,289.1 355,287.5 349.5,285.3 344.5,283.1 334,277.3 323.5,270.4 313,262.1 302.5,252.5 296.7,246.6 291.3,240.6 281.1,228.1 276.4,221.6 272.1,215.1 268.1,208.6 264.8,202.6 261.8,196.6 259.5,191.1 257.7,185.6 256.6,181.1 256.1,177.1 256.2,173.6 257.1,170.6 258.5,168.5 259.6,167.6 261,166.8 264.5,165.9 269,165.9 274,166.9 280,168.7 287,171.5 295,175.2 303.5,179.7 313,185.2 323.5,191.8 334,198.8 344.5,206.3 354.5,213.9 363.3,221.1 371.4,228.1 378.8,235.1 384.1,240.6 388.6,245.6 392.6,250.6 396.1,255.6 398.7,260.1 400.8,264.6 402.1,268.6 402.8,272.6 402.8,276.1 402,279.6 400.5,282.8 398.2,285.6 395.5,287.7 392,289.5 388,290.8 383.5,291.6Z" fill="#9b9b9b"/>
<path d="M379.5,291.1L375,291.1 370.5,290.7 366,289.9 361,288.7 356,287.2 351,285.3 341,280.7 331,274.9 320.5,267.6 310.5,259.4 300.5,249.9 290.1,238.6 280.2,226.1 271.7,213.6 268.2,207.6 264.9,201.6 262.3,196.1 260.1,190.6 258.7,186.1 257.6,181.6 257.2,177.6 257.4,174.6 258.3,171.6 259.7,169.6 261,168.5 262.5,167.8 266,167 270.5,167.2 275.5,168.1 281.5,170 288.5,172.8 296.5,176.6 305,181.2 314.5,186.7 325,193.4 335.5,200.5 345.5,207.7 355.5,215.3 364.3,222.6 372.2,229.6 379.5,236.6 384.7,242.1 389,247.1 392.8,252.1 396.1,257.1 398.5,261.6 400.2,265.6 401.3,269.6 401.7,273.6 401.4,277.1 400.3,280.6 398.4,283.6 395.8,286.1 392.6,288.1 388.8,289.6 384.5,290.6 379.5,291.1Z" fill="#989898"/>
<path d="M382,290.1L378,290.4 373.5,290.2 369,289.8 364,288.8 359,287.5 354,285.9 344,281.6 333.5,275.9 323,268.8 313,260.9 302.9,251.6 292,240.1 282.3,228.1 273.6,215.6 269.7,209.1 266.4,203.1 263.7,197.6 261.4,192.1 259.8,187.1 258.7,182.6 258.4,178.6 258.6,175.6 259.5,172.6 260.9,170.6 263.5,168.9 267,168.2 271,168.2 276,169.2 282,171 288.5,173.5 296,177 304.5,181.5 314,187 323.5,192.9 334,200 343.5,206.8 353,214 361.5,220.8 369.5,227.8 376.7,234.6 382.1,240.1 386.5,245.1 390.5,250.1 393.7,254.6 396.3,259.1 398.5,263.6 399.8,267.6 400.5,271.6 400.5,275.1 399.7,278.6 398.3,281.6 396.3,284.1 393.5,286.3 390.1,288.1 386.5,289.3 382,290.1Z" fill="#959595"/>
<path d="M377,289.6L373,289.5 368.5,289 364,288.2 359,286.9 349.5,283.5 339.5,278.8 329.5,272.8 319.5,265.6 310,257.7 300.5,248.6 290.5,237.6 281.4,226.1 273.3,214.1 266.8,202.6 264.2,197.1 262.2,192.1 260.8,187.6 259.8,183.1 259.5,179.1 259.8,176.1 260.7,173.6 262,171.8 264.5,170.1 268,169.3 272.5,169.4 277.5,170.4 283.5,172.3 290.5,175.1 298,178.7 306.5,183.2 316,188.8 325.5,194.8 336,201.9 345.5,208.8 354.5,215.7 363.5,223.2 371.3,230.1 378.5,237.1 383.6,242.6 387.8,247.6 391.5,252.6 394.3,257.1 396.7,261.6 398.4,266.1 399.3,270.1 399.5,273.6 398.9,277.1 397.8,280.1 396,282.6 393.3,285.1 390,287 386,288.4 381.5,289.3 377,289.6Z" fill="#929292"/>
<path d="M380,288.6L376,288.8 371.5,288.7 367,288.1 362.5,287.2 353,284.3 343,280 333,274.4 323,267.7 313,259.7 303.1,250.6 292.8,239.6 283.5,228.1 275.1,216.1 271.5,210.1 268.2,204.1 265.6,198.6 263.5,193.6 262,189.1 261,184.6 260.6,180.6 260.8,177.6 261.6,175.1 263,172.9 264,172.1 265.5,171.2 269,170.4 273,170.5 278,171.4 284,173.2 290.5,175.8 298,179.3 305.5,183.3 314.5,188.5 324,194.4 333.5,200.8 343,207.5 352,214.4 360.5,221.3 368.3,228.1 375.2,234.6 380.1,239.6 384.5,244.6 388.5,249.6 391.6,254.1 394.3,258.6 396.2,262.6 397.5,266.6 398.3,270.6 398.3,274.1 397.5,277.6 396,280.6 394,283 391.3,285.1 388,286.8 384,288 380,288.6Z" fill="#8f8f8f"/>
<path d="M381,287.7L377,288.1 373,288 368.5,287.6 364,286.9 359.5,285.8 354.5,284.2 344.5,280.1 334.5,274.8 324.5,268.2 314.5,260.4 304.7,251.6 294.3,240.6 284.8,229.1 276.4,217.1 269.6,205.6 266.9,200.1 264.6,194.6 263.1,190.1 262.1,185.6 261.7,181.6 261.9,178.6 262.7,176.1 264,174.1 265.2,173.1 266.5,172.4 269.5,171.6 273.5,171.5 278,172.3 283.5,173.8 290,176.3 297,179.5 304.5,183.3 313,188.1 322,193.7 331.5,199.9 340.5,206.3 349.5,213 358,219.8 365.9,226.6 372.9,233.1 382.5,243.1 386.6,248.1 389.8,252.6 392.6,257.1 394.6,261.1 396.2,265.1 397.1,269.1 397.3,272.6 396.9,275.6 395.8,278.6 394,281.3 391.6,283.6 388.5,285.5 385,286.8 381,287.7Z" fill="#8c8c8c"/>
<path d="M378.5,287.1L374.5,287.3 370.5,287.2 366,286.6 361.5,285.7 357,284.4 352,282.7 342.5,278.6 333,273.3 323,266.6 313.5,259 303.8,250.1 294,239.6 284.6,228.1 276.7,216.6 270.3,205.6 267.6,200.1 265.6,195.1 264.1,190.6 263.2,186.6 262.8,182.6 263,179.6 263.8,177.1 265.1,175.1 267.5,173.5 270.5,172.7 274.5,172.6 279.5,173.5 285,175.1 291.5,177.6 298.5,180.8 306,184.7 315,189.9 323.5,195.2 333,201.5 342,207.9 350.5,214.4 358.8,221.1 366.3,227.6 373.2,234.1 378.1,239.1 382.5,244.1 386.5,249.1 389.7,253.6 392.3,258.1 394.2,262.1 395.5,266.1 396.1,269.6 396.1,273.1 395.5,276.1 394.2,279.1 392.2,281.6 389.7,283.6 386.5,285.3 382.5,286.5 378.5,287.1Z" fill="#898989"/>
<path d="M380,286.1L376,286.5 372,286.5 368,286.2 363.5,285.5 359,284.4 354,282.9 344.5,279 335,274 325,267.5 315,259.7 305.5,251.1 295.4,240.6 286.3,229.6 278.2,218.1 274.8,212.6 271.4,206.6 268.7,201.1 266.7,196.1 265.2,191.6 264.2,187.6 263.8,183.6 264.1,180.6 264.9,178.1 266.3,176.1 268.5,174.6 271.5,173.7 275.5,173.7 280,174.4 285.5,176 291.5,178.3 298,181.2 305.5,185 314,189.9 323,195.4 332,201.4 340.5,207.4 349,213.8 356.9,220.1 364.5,226.6 371,232.6 380.5,242.6 384.2,247.1 387.5,251.6 390.3,256.1 392.4,260.1 394,264.1 394.8,267.6 395.1,271.1 394.8,274.1 393.9,277.1 392.4,279.6 390,282 387.5,283.7 384,285.1 380,286.1Z" fill="#868686"/>
<path d="M377.5,285.6L373.5,285.8 369.5,285.7 365.5,285.2 361,284.3 352,281.6 342.5,277.5 333,272.2 323.5,265.8 314,258.3 304.5,249.6 294.7,239.1 285.8,228.1 278.2,217.1 271.8,206.1 269.4,201.1 267.4,196.1 266,191.6 265.2,187.6 264.9,184.1 265.2,181.1 266,178.9 267.3,177.1 269.6,175.6 273,174.8 277,174.8 281.5,175.6 287,177.3 293,179.6 300,182.8 307,186.5 315,191 323.5,196.3 332.5,202.3 341,208.3 349.5,214.7 357.4,221.1 364.9,227.6 371.2,233.6 376.1,238.6 380.6,243.6 384.2,248.1 387.4,252.6 389.8,256.6 391.7,260.6 393.2,264.6 393.9,268.1 394,271.6 393.5,274.6 392.3,277.6 390.5,280 388,282.1 385,283.7 381.5,284.9 377.5,285.6Z" fill="#838383"/>
<path d="M378.5,284.6L375,285 371,285.1 367,284.7 362.5,284 358,282.9 353.5,281.5 344,277.6 334.5,272.6 325,266.4 315.5,259 306.2,250.6 296.6,240.6 287.5,229.6 279.7,218.6 273.2,207.6 270.8,202.6 268.7,197.6 267.2,193.1 266.3,189.1 266,185.6 266.2,182.6 267,180.1 268.4,178.1 270.7,176.6 274,175.8 277.5,175.8 282,176.6 287,178 293,180.3 299.5,183.2 306.5,186.8 314.5,191.3 322.5,196.2 331,201.8 339.5,207.7 347.5,213.7 355.5,220.1 363,226.6 369.5,232.6 378.6,242.1 382.3,246.6 385.6,251.1 388.1,255.1 390.2,259.1 391.8,263.1 392.7,266.6 393,270.1 392.7,273.1 391.7,276.1 390.2,278.6 388.2,280.6 385.5,282.4 382.5,283.7 378.5,284.6Z" fill="#808080"/>
<path d="M376,284.1L372.5,284.3 368.5,284.2 364.5,283.7 360,282.8 351,280 342,276.1 332.5,270.8 323.5,264.7 314,257.2 305.2,249.1 295.8,239.1 287.3,228.6 279.7,217.6 273.6,207.1 271.2,202.1 269.4,197.6 268.2,193.6 267.3,189.6 267,186.1 267.3,183.1 268,181.1 269.5,179.1 271.8,177.6 275,176.9 278.5,176.9 283,177.6 288,179.1 294,181.3 300.5,184.3 307.5,187.9 315.5,192.4 324,197.7 332.5,203.3 341,209.4 349,215.5 356.6,221.6 363.4,227.6 369.8,233.6 378.7,243.1 382.3,247.6 385.5,252.1 387.8,256.1 389.8,260.1 391.2,264.1 391.8,267.6 391.9,270.6 391.4,273.6 390.1,276.6 388.5,278.8 386.4,280.6 383.5,282.2 380,283.4 376,284.1Z" fill="#7d7d7d"/>
<path d="M377,283.2L373.5,283.5 369.5,283.5 365.5,283.2 361.5,282.5 357,281.4 352.5,280 343.5,276.3 334.5,271.5 325,265.3 316,258.3 306.9,250.1 297.3,240.1 288.6,229.6 280.9,218.6 274.8,208.1 272.4,203.1 270.5,198.6 269.2,194.6 268.4,190.6 268.1,187.1 268.4,184.1 269.1,182.1 270.5,180.1 272.5,178.8 275.5,178 279,177.9 283.5,178.6 288.5,180 294.5,182.2 300.5,184.9 307.5,188.5 315.5,193 323.5,197.9 339.5,208.8 347.5,214.9 354.7,220.6 361.6,226.6 367.6,232.1 376.6,241.6 383.3,250.1 385.9,254.1 388,258.1 389.6,262.1 390.6,265.6 390.9,269.1 390.6,272.1 389.9,274.6 388.4,277.1 386.5,279.1 383.5,281.1 380.5,282.3 377,283.2Z" fill="#7a7a7a"/>
<path d="M375,282.6L371.5,282.8 368,282.7 364,282.3 360,281.5 351.5,279.1 342.5,275.2 333.5,270.3 324.5,264.4 315.5,257.3 306.5,249.1 297.4,239.6 288.8,229.1 281.5,218.6 275.7,208.6 271.6,199.6 270.3,195.6 269.4,191.6 269.1,188.6 269.3,185.6 270.1,183.1 271.5,181.2 273.5,179.8 276.5,179 280,178.9 284.5,179.6 289.5,181 295,183.1 301,185.8 308,189.3 315.5,193.5 323.5,198.5 331.5,203.7 340,209.8 347.7,215.6 355.1,221.6 362,227.6 367.9,233.1 376.8,242.6 380.4,247.1 383.2,251.1 385.6,255.1 387.6,259.1 388.9,262.6 389.7,266.1 389.9,269.1 389.5,272.1 388.5,274.7 386.9,277.1 384.7,279.1 382,280.7 378.5,282 375,282.6Z" fill="#777777"/>
<path d="M375.5,281.7L372,282.1 368.5,282.1 364.5,281.7 360.5,281 352,278.6 343,274.9 334,270.1 325,264.2 316,257.2 307.5,249.5 298.4,240.1 290.1,230.1 282.7,219.6 276.8,209.6 272.7,200.6 271.4,196.6 270.5,192.6 270.2,189.6 270.4,186.6 271.2,184.1 272.5,182.2 274.5,180.9 277.5,180 281,180 285,180.6 290,181.9 295.5,184 301.5,186.6 308,189.9 315,193.8 323,198.7 338.5,209.2 353.2,220.6 360.2,226.6 366.1,232.1 374.7,241.1 378.5,245.6 381.4,249.6 384,253.6 386.1,257.6 387.5,261.1 388.5,264.6 388.8,268.1 388.5,271.1 387.7,273.6 386.2,276.1 384.2,278.1 382,279.6 379,280.8 375.5,281.7Z" fill="#747474"/>
<path d="M373.5,281.1L370,281.3 366.5,281.2 359,280.1 350.5,277.5 342,273.9 333.5,269.2 324.5,263.3 315.5,256.2 307,248.4 298.1,239.1 290.3,229.6 283.3,219.6 277.5,209.6 275.3,205.1 273.5,200.6 272.2,196.6 271.5,193.1 271.2,190.1 271.5,187.1 272.2,185.1 273.5,183.3 275.5,181.9 278.5,181.1 282,181 286,181.6 290.5,182.8 296,184.8 302,187.5 308.5,190.8 316,195 323.5,199.5 331.5,204.8 339,210.1 353.5,221.4 360.1,227.1 365.9,232.6 374.4,241.6 378.1,246.1 381,250.1 383.5,254.1 385.5,258.1 386.8,261.6 387.6,265.1 387.8,268.1 387.4,271.1 386.5,273.6 384.7,276.1 382.5,278 380,279.4 377,280.5 373.5,281.1Z" fill="#717171"/>
<path d="M374.5,280.1L371.5,280.5 368,280.6 364.5,280.3 360.5,279.7 352,277.5 343.5,274 334.5,269.3 326,263.8 317,256.9 308.5,249.3 299.6,240.1 291.7,230.6 284.5,220.6 278.6,210.6 276.4,206.1 274.6,201.6 273.3,197.6 272.5,194.1 272.3,191.1 272.5,188.1 273.2,186.1 274.5,184.3 276.5,182.9 279.5,182.1 282.5,182 286.5,182.6 291,183.7 296.5,185.7 302.5,188.3 308.5,191.3 315.5,195.2 322.5,199.5 337.5,209.6 351.5,220.4 363.7,231.1 372.4,240.1 376.2,244.6 379.2,248.6 381.8,252.6 383.7,256.1 385.2,259.6 386.2,263.1 386.7,266.1 386.6,269.1 386,271.6 384.8,274.1 383,276.2 380.5,278 377.5,279.3 374.5,280.1Z" fill="#6e6e6e"/>
<path d="M372,279.6L368.5,279.8 365,279.7 357.5,278.4 349.5,276 341,272.3 332.5,267.5 324,261.8 315.5,255 307.5,247.7 299.3,239.1 291.5,229.6 284.8,220.1 279.3,210.6 275.5,202.1 274.2,198.1 273.5,194.6 273.3,191.6 273.6,189.1 274.2,187.1 275.5,185.3 277.5,183.9 280,183.2 283.5,183.1 287.5,183.6 292,184.8 297.5,186.8 303.5,189.4 309.5,192.5 316.5,196.4 324,201 338.5,210.9 352.3,221.6 358.6,227.1 364.5,232.6 373,241.6 379.1,249.6 381.5,253.6 383.3,257.1 384.7,260.6 385.5,264.1 385.7,267.1 385.3,270.1 384.3,272.6 383,274.6 381,276.4 378.5,277.9 375.5,279 372,279.6Z" fill="#6b6b6b"/>
<path d="M373,278.6L370,279 366.5,279 359.5,278.2 351.5,276.1 343,272.7 334.5,268.2 326,262.7 317.5,256.2 309,248.6 300.8,240.1 292.8,230.6 286.1,221.1 280.4,211.6 276.6,203.1 275.3,199.1 274.6,195.6 274.4,192.6 274.6,190.1 275.3,188.1 276.5,186.3 278.5,184.9 281,184.2 284,184.1 288,184.6 292.5,185.7 297.5,187.5 303,189.8 309,192.8 322.5,200.6 337,210.3 350.4,220.6 362.3,231.1 370.9,240.1 377.3,248.1 379.9,252.1 381.8,255.6 383.2,259.1 384.1,262.1 384.6,265.1 384.5,268.1 383.9,270.6 382.6,273.1 380.8,275.1 378.7,276.6 376,277.8 373,278.6Z" fill="#686868"/>
<path d="M370.5,278.1L367.5,278.3 364,278.2 357,277 349,274.6 341,271.1 333,266.7 324.5,261 316.5,254.7 308.5,247.5 300,238.6 292.7,229.6 286.3,220.6 281.1,211.6 277.5,203.6 276.4,200.1 275.6,196.6 275.4,193.6 275.6,191.1 276.3,189.1 277.5,187.4 279.5,186 282,185.2 285,185.1 289,185.6 293.5,186.8 298.5,188.5 304,190.9 310,193.9 316.5,197.5 323.5,201.7 337.5,211.2 350.9,221.6 357.2,227.1 362.6,232.1 370.6,240.6 376.8,248.6 379.4,252.6 381.2,256.1 382.5,259.6 383.3,262.6 383.6,265.6 383.3,268.6 382.4,271.1 381.1,273.1 379,275.1 376.5,276.5 373.5,277.6 370.5,278.1Z" fill="#656565"/>
<path d="M371,277.2L368,277.5 364.5,277.5 357.5,276.5 350,274.4 342,271 334,266.8 325.5,261.2 317.5,255 309.5,247.8 301.5,239.6 294,230.6 287.6,221.6 282.3,212.6 278.7,204.6 277.5,201.1 276.7,197.6 276.5,194.6 276.7,192.1 277.3,190.1 278.5,188.4 280.5,187 283,186.3 286,186.1 289.5,186.6 293.5,187.5 298.5,189.2 304,191.6 309.5,194.3 322.5,201.7 336,210.7 349,220.7 355.4,226.1 360.8,231.1 369,239.6 375.4,247.6 378,251.6 379.8,255.1 381.3,258.6 382.1,261.6 382.5,264.6 382.4,267.1 381.8,269.6 380.5,272 378.5,274.1 376.5,275.4 374,276.4 371,277.2Z" fill="#626262"/>
<path d="M368.5,276.6L362.5,276.6 355.5,275.4 348,273 340,269.5 332,265 324.1,259.6 316.5,253.6 308.9,246.6 301,238.3 293.8,229.6 287.9,221.1 282.9,212.6 279.4,204.6 278.3,201.1 277.7,198.1 277.5,195.6 277.7,193.1 278.4,191.1 279.5,189.5 281.5,188 284,187.3 287,187.2 290.5,187.6 294.5,188.6 299.5,190.3 305,192.7 310.5,195.4 323.5,202.9 337,212 350,222.1 361.1,232.1 369.1,240.6 372.4,244.6 375.3,248.6 377.4,252.1 379.2,255.6 380.5,259.1 381.2,262.1 381.5,265.1 381.2,267.6 380.2,270.1 378.9,272.1 377,273.8 374.5,275.2 371.6,276.1 368.5,276.6Z" fill="#5f5f5f"/>
<path d="M369,275.7L366,275.9 363,275.9 356,274.8 348.5,272.6 341,269.4 333.5,265.3 325.5,260.1 317.5,253.8 310,247.1 302.3,239.1 295.2,230.6 289.2,222.1 284.1,213.6 280.5,205.6 279.4,202.1 278.8,199.1 278.6,196.6 278.8,194.1 279.4,192.1 280.5,190.5 282.5,189.1 284.5,188.4 287.5,188.2 291,188.6 295,189.5 300,191.2 305,193.3 310.5,196 323,203.1 336,211.8 348.5,221.5 359.4,231.1 367.1,239.1 373.5,247.1 375.7,250.6 377.6,254.1 379.1,257.6 380,260.6 380.4,263.6 380.3,266.1 379.6,268.6 378.5,270.6 376.6,272.6 374.5,274 372,275 369,275.7Z" fill="#5c5c5c"/>
<path d="M365.5,275.1L359.5,274.8 352.5,273.3 345.5,270.8 338,267.3 330.5,262.9 323,257.6 315.6,251.6 308.6,245.1 301.1,237.1 294.7,229.1 289.1,221.1 284.6,213.1 281.3,205.6 280.4,202.6 279.8,199.6 279.7,197.1 279.9,195.1 280.5,193.1 281.5,191.6 283.5,190.1 286,189.4 289,189.3 292.5,189.7 296.5,190.7 301.5,192.5 306.5,194.7 312,197.4 324.5,204.6 337.6,213.6 350,223.3 360.7,233.1 368.5,241.6 374,249.1 376,252.6 377.7,256.1 378.7,259.1 379.2,262.1 379.2,265.1 378.7,267.6 377.7,269.6 376,271.6 374,273 371.5,274.1 368.5,274.8 365.5,275.1Z" fill="#595959"/>
<path d="M367,274.1L361.5,274.2 355,273.3 348,271.2 340.5,268 333,263.9 325.5,258.9 318,253.1 310.5,246.3 303.1,238.6 296.4,230.6 290.7,222.6 286,214.6 282.7,207.1 281,201.1 280.8,198.6 281,196.1 281.6,194.1 282.6,192.6 284.5,191.2 286.5,190.6 289.5,190.3 293,190.7 297,191.7 301.5,193.2 311.5,197.7 323.5,204.6 336,213 347.8,222.1 358.4,231.6 366,239.6 371.9,247.1 374.1,250.6 375.9,254.1 377.1,257.1 377.9,260.1 378.2,263.1 378,265.5 377.3,267.6 376.2,269.6 374.5,271.3 372.4,272.6 370,273.5 367,274.1Z" fill="#565656"/>
<path d="M367,273.2L361.5,273.5 355,272.6 348,270.5 341,267.6 333.5,263.6 326,258.7 318.5,252.9 311.5,246.6 304.2,239.1 297.5,231.1 291.7,223.1 287,215.1 283.6,207.6 282.7,204.6 282.1,201.6 281.9,199.1 282.1,197.1 282.7,195.1 283.7,193.6 285.5,192.3 287.5,191.6 290,191.4 293.5,191.7 297.5,192.6 301.5,193.9 306.5,196 311.5,198.4 323,204.9 335,212.9 346.4,221.6 356.6,230.6 363.9,238.1 370,245.6 372.3,249.1 374.3,252.6 375.6,255.6 376.6,258.6 377.1,261.6 377,264.1 376.5,266.3 375.5,268.3 374,270.1 372,271.5 369.5,272.6 367,273.2Z" fill="#535353"/>
<path d="M363.5,272.6L358,272.4 351.5,271 344.5,268.5 337.5,265.2 330.5,261.1 323.5,256.2 316.5,250.5 309.6,244.1 302.6,236.6 296.6,229.1 291.4,221.6 287.2,214.1 284.5,207.6 283.1,202.1 283,199.6 283.3,197.6 284,195.8 285,194.5 287,193.2 289,192.6 292,192.5 295.5,193 299.5,194 303.5,195.4 308.5,197.6 313.5,200.1 325,206.7 337.2,215.1 348.6,224.1 358.4,233.1 365.3,240.6 370.6,247.6 372.6,251.1 374.1,254.1 375.2,257.1 375.8,260.1 376,262.6 375.6,265.1 374.8,267.1 373.2,269.1 371.2,270.6 369.1,271.6 366.5,272.3 363.5,272.6Z" fill="#505050"/>
<path d="M364.5,271.6L359,271.7 353,270.7 346.5,268.7 339.5,265.6 332.5,261.7 325.5,257.1 318.5,251.6 311.5,245.3 304.6,238.1 298.4,230.6 293.1,223.1 288.7,215.6 285.7,208.6 284.3,203.1 284.2,200.6 284.4,198.6 285,197 286,195.6 287.5,194.5 290,193.7 292.5,193.6 296,194 299.5,194.8 303.5,196.2 313,200.5 324,206.7 335.5,214.4 346.5,223 356.1,231.6 363.3,239.1 368.7,246.1 372.5,252.6 373.7,255.6 374.4,258.1 374.8,260.6 374.7,263.1 374,265.6 373,267.4 371.5,268.9 369.5,270.2 367.1,271.1 364.5,271.6Z" fill="#4d4d4d"/>
<path d="M364.5,270.6L359.5,270.9 353.5,270.1 347,268.2 340,265.2 333,261.4 326,256.8 319,251.4 312.5,245.6 305.7,238.6 299.4,231.1 294.1,223.6 290,216.6 287,210.1 285.5,204.6 285.3,202.1 285.5,200.1 286,198.4 287,196.9 288.5,195.7 290.5,195 293,194.7 296,194.9 299.5,195.7 303.5,197 312.5,200.9 323,206.7 334,214 344.6,222.1 354.3,230.6 361.6,238.1 367.2,245.1 371.1,251.6 372.4,254.6 373.2,257.1 373.6,259.6 373.6,262.1 373.2,264.1 372.3,266.1 371,267.6 369,269.1 367,270 364.5,270.6Z" fill="#4a4a4a"/>
<path d="M364,269.6L359,270 353.5,269.3 347,267.5 340.5,264.8 334,261.4 327,256.9 320.1,251.6 313.5,245.8 306.9,239.1 300.9,232.1 295.4,224.6 291.2,217.6 288.3,211.1 286.7,205.6 286.5,203.1 286.7,201.1 287.1,199.6 288,198.1 289.5,196.9 291.5,196.1 294,195.8 297,196.1 300.5,196.8 304,197.9 312.5,201.6 322.5,207.1 333.2,214.1 343.8,222.1 353,230.1 359.9,237.1 365.6,244.1 369.7,250.6 371,253.6 371.9,256.1 372.4,258.6 372.5,261.1 372.1,263.1 371.3,265.1 370.1,266.6 368.5,267.9 366.5,268.9 364,269.6Z" fill="#474747"/>
<path d="M363.5,268.6L361,269 358.5,269.1 353,268.4 347,266.8 340.5,264.1 334,260.7 327,256.2 320.5,251.3 314,245.6 307.6,239.1 301.6,232.1 296.5,225.1 292.3,218.1 289.5,212.1 288,206.6 287.7,204.1 287.9,202.1 288.5,200.3 289.3,199.1 291,197.8 293,197.2 295.5,197 298,197.2 301.5,198 305,199.1 313,202.5 323,208 333,214.6 343,222.1 352,230 359,237.1 364.4,243.6 368.2,249.6 369.6,252.6 370.5,255.1 371.1,257.6 371.3,260.1 371,262.1 370.2,264.1 369.2,265.6 367.5,267 365.5,268 363.5,268.6Z" fill="#444444"/>
<path d="M358.5,268.1L353.5,267.7 348,266.3 342,264.1 336,261.2 330,257.6 323.5,253 317.5,248 311.5,242.4 305.6,236.1 300.4,229.6 296,223.1 292.6,217.1 290.3,211.6 289.1,206.6 289,204.6 289.3,202.6 289.9,201.1 290.7,200.1 292,199.1 294,198.4 296.5,198.2 299.5,198.5 303,199.3 307,200.7 315.5,204.5 325.5,210.3 336,217.4 345.7,225.1 354.4,233.1 360.8,240.1 365.5,246.6 367.2,249.6 368.6,252.6 369.5,255.1 369.9,257.6 370,260.1 369.5,262.1 368.8,263.6 367.5,265.2 365.6,266.6 363.5,267.4 361,267.9 358.5,268.1Z" fill="#414141"/>
<path d="M358,267.1L353,266.7 348,265.6 342,263.4 336,260.5 330,256.9 323.9,252.6 317.8,247.6 312,242.1 306.4,236.1 301.5,230.1 297,223.6 293.7,217.6 291.4,212.1 290.4,207.6 290.5,204 291,202.6 292,201.2 293.5,200.2 295.5,199.6 298,199.4 301,199.8 304.5,200.7 308,201.9 316,205.5 325.5,210.9 335.3,217.6 344.8,225.1 353,232.6 359,239.1 363.9,245.6 365.7,248.6 367.2,251.6 368.1,254.1 368.6,256.6 368.7,259.1 368.3,261.1 367.7,262.6 366.5,264.2 365,265.3 363,266.3 360.5,266.9 358,267.1Z" fill="#3e3e3e"/>
<path d="M360.5,265.7L356,266.1 351,265.5 345.5,263.9 339.5,261.5 333.5,258.3 327.5,254.5 321.5,249.9 315.4,244.6 309.4,238.6 303.9,232.1 299.1,225.6 295.6,219.6 293.1,214.1 291.8,209.1 291.6,207.1 291.8,205.1 292.4,203.6 293.1,202.6 294.4,201.6 296,201 298.5,200.7 301,200.9 307,202.4 314.5,205.5 323,210.1 332.5,216.3 341.5,223.1 349.5,230.1 355.9,236.6 360.9,242.6 364.4,248.1 366.6,253.1 367.2,255.6 367.4,257.6 367.2,259.6 366.5,261.6 365.5,263 364.2,264.1 362.5,265.1 360.5,265.7Z" fill="#3b3b3b"/>
<path d="M359.5,264.6L355.5,265 350.5,264.5 345,262.9 339.5,260.7 333.5,257.6 327.5,253.7 321.5,249.2 315.7,244.1 309.8,238.1 304.7,232.1 300.3,226.1 296.7,220.1 294.3,214.6 293.1,210.1 293.1,206.6 293.6,205.1 294.5,203.8 296,202.7 297.5,202.2 299.5,202 302,202.2 308,203.7 315,206.6 323.5,211.2 332,216.7 340.5,223.1 348.6,230.1 354.6,236.1 359.5,242.1 363.1,247.6 365.3,252.6 365.9,255.1 366,257.1 365.7,259.1 365.2,260.6 364.1,262.1 363,263.1 361.5,264 359.5,264.6Z" fill="#383838"/>
<path d="M357.5,263.7L353.5,263.8 348.5,263.1 343.5,261.5 338,259.2 332.4,256.1 326.5,252.2 321,248 315.5,243.1 310.2,237.6 305.5,232.1 301.2,226.1 297.9,220.6 295.7,215.6 294.6,211.1 294.5,209.1 294.6,207.6 295.2,206.1 295.9,205.1 297.3,204.1 299,203.5 301,203.4 303.5,203.6 309,205 316,207.9 324,212.3 332.5,217.8 340.7,224.1 348.2,230.6 354,236.6 358.9,242.6 362,247.6 364.1,252.6 364.5,254.6 364.5,256.6 364.2,258.6 363.5,260.1 362.5,261.4 361,262.5 359.5,263.2 357.5,263.7Z" fill="#353535"/>
<path d="M355.5,262.6L351.5,262.6 347,261.7 342,260.1 336.5,257.6 331.3,254.6 326,251 320.5,246.7 315.5,242.1 310.5,237 306,231.6 302.1,226.1 299,220.6 296.9,215.6 296,211.6 296.2,208.6 296.6,207.6 297.5,206.3 299,205.4 300.5,204.9 302.5,204.8 305,205 310.5,206.5 317.5,209.6 325,213.7 333.1,219.1 340.9,225.1 348.2,231.6 353.9,237.6 358.2,243.1 361.1,248.1 362.7,252.6 363,254.6 362.9,256.6 362.6,258.1 361.7,259.6 360.8,260.6 359.2,261.6 357.5,262.2 355.5,262.6Z" fill="#323232"/>
<path d="M355.5,261.2L352,261.4 347.5,260.8 342.5,259.3 337.5,257.2 332,254.2 327,250.9 322,247 317,242.6 312.1,237.6 307.4,232.1 303.4,226.6 300.5,221.6 298.6,217.1 297.6,213.1 297.8,210.1 298.1,209.1 299,207.8 300.5,206.8 302,206.4 304,206.3 306,206.5 311.5,207.9 317.5,210.5 324.5,214.3 332,219.2 339.2,224.6 346.1,230.6 351.5,236.1 355.6,241.1 358.8,246.1 360.8,250.6 361.3,252.6 361.4,254.6 361.3,256.1 360.7,257.6 359.7,259.1 358.5,260 355.5,261.2Z" fill="#2f2f2f"/>
<path d="M354,258.6L351,259.1 347,258.7 342.5,257.5 338,255.7 333,253.1 328.5,250.3 323.5,246.6 318.9,242.6 314.3,238.1 309.9,233.1 306.3,228.1 303.5,223.6 301.5,219.1 300.6,215.6 300.7,212.6 301.7,210.6 302.5,209.9 304,209.3 305.5,209.1 307.5,209.1 312,210.1 318,212.5 324,215.6 331,220.1 337.5,224.9 343.5,230.1 348.6,235.1 352.8,240.1 355.8,244.6 357.7,248.6 358.4,252.1 358.4,253.6 358.1,255.1 357.5,256.2 356.5,257.3 354,258.6Z" fill="#2b2b2b"/>
<path d="M353.5,258.1L350.5,258.6 346.5,258.2 342.5,257.1 338,255.4 333.5,253.1 328.5,249.9 324,246.6 319,242.3 314.5,237.9 310.3,233.1 306.7,228.1 304,223.6 302.2,219.6 301.3,216.1 301.4,213.1 302.4,211.1 303.5,210.3 305,209.8 308.5,209.8 313,210.9 318.5,213.1 324.5,216.3 331,220.5 337.3,225.1 343.1,230.1 348.1,235.1 352,239.6 355,244.1 357,248.1 357.8,251.6 357.8,253.1 357.5,254.6 357,255.6 356,256.8 354.8,257.6 353.5,258.1Z" fill="#2a2a2a"/>
<path d="M352.5,257.7L349.5,258 345.8,257.6 341.5,256.4 337.2,254.6 332.5,252.1 328,249.2 323.5,245.8 319,242 314.6,237.6 310.7,233.1 307.4,228.6 304.7,224.1 302.9,220.1 301.9,216.6 302,213.7 303,211.7 303.8,211.1 305,210.5 306.5,210.3 308.5,210.3 313,211.3 318.5,213.5 324.5,216.7 331,220.8 337.4,225.6 343.2,230.6 347.7,235.1 351.5,239.6 354.5,244.1 356.4,248.1 357.2,251.6 357.1,253.1 356.7,254.6 356,255.7 355,256.6 352.5,257.7Z" fill="#292929"/>
<path d="M352,257.2L349,257.5 345.5,257.1 341.5,256 337,254.1 333,252 328.4,249.1 323.7,245.6 319.5,242 315.5,238.1 311.5,233.5 308.2,229.1 305.4,224.6 303.6,220.6 302.6,217.1 302.6,214.6 303.5,212.5 304.5,211.7 305.5,211.2 307,210.9 309,210.9 313,211.8 318,213.7 324,216.8 330.1,220.6 336.3,225.1 342.2,230.1 347.2,235.1 351,239.6 353.7,243.6 355.7,247.6 356.5,251.1 356.4,252.6 356,254.1 355.4,255.1 354.5,256 352,257.2Z" fill="#282828"/>
<path d="M351,256.7L348,256.9 344.5,256.4 340.5,255.2 336.5,253.5 332,251.1 327.5,248.1 323,244.6 319,241.1 315,237.1 311.2,232.6 307.9,228.1 305.6,224.1 303.9,220.1 303.3,217.1 303.5,214.6 304.5,212.8 305.6,212.1 307,211.7 310,211.7 314.5,212.7 319.5,214.8 325,217.7 331,221.6 337,226.1 342.8,231.1 347.2,235.6 350.9,240.1 353.5,244.1 355.2,248.1 355.8,251.1 355.3,253.6 354.7,254.6 353.7,255.6 352.5,256.3 351,256.7Z" fill="#272727"/>
<path d="M350,256.2L347,256.2 343.5,255.7 339.5,254.4 335.5,252.6 331.1,250.1 327,247.3 322.9,244.1 319,240.7 315,236.6 311.6,232.6 308.7,228.6 306.4,224.6 304.8,221.1 304.1,218.1 304.1,215.6 304.4,214.6 305.1,213.6 306,212.9 307.5,212.4 310.5,212.3 314.5,213.2 319.5,215.2 325,218.1 331.2,222.1 337.1,226.6 342.5,231.3 346.7,235.6 350.4,240.1 352.9,244.1 354.5,247.6 354.9,249.6 355,251.1 354.8,252.6 354.3,253.6 353.5,254.6 352.5,255.4 350,256.2Z" fill="#262626"/>
<path d="M349,255.6L346,255.6 342.5,254.9 339,253.7 335,251.9 331,249.6 326.6,246.6 322.8,243.6 318.9,240.1 315,236.1 311.7,232.1 308.9,228.1 306.9,224.6 305.4,221.1 304.8,218.1 305,215.8 306,214.1 307,213.5 308.1,213.1 311.5,213.1 315.5,214.1 320.5,216.2 326,219.2 332,223.1 337.8,227.6 342.8,232.1 347.1,236.6 350.2,240.6 352.6,244.6 353.9,248.1 354.2,251.1 353.5,253.2 352.7,254.1 351.5,254.9 349,255.6Z" fill="#252525"/>
<path d="M350,254.6L347.5,255 344.5,254.8 341,253.9 337,252.4 333,250.3 329,247.9 325,244.9 321,241.6 316.9,237.6 313.5,233.7 310.4,229.6 308.2,226.1 306.6,222.6 305.7,219.6 305.7,217.1 305.9,216.1 306.5,215.1 307.5,214.3 308.5,213.9 311.5,213.8 315,214.5 319.5,216.2 324.5,218.8 329.9,222.1 335.4,226.1 340.1,230.1 344.3,234.1 347.8,238.1 350.6,242.1 352.4,245.6 353.4,249.1 353.2,251.6 352,253.5 350,254.6Z" fill="#242424"/>
<path d="M348.5,254.1L345.5,254.3 342.5,253.8 339,252.7 335.5,251.2 331.7,249.1 328,246.7 324,243.7 320.5,240.6 317,237.1 313.5,233.1 310.6,229.1 308.6,225.6 307.1,222.1 306.5,219.6 306.6,217.6 306.9,216.6 307.5,215.7 308.3,215.1 309.5,214.7 312.5,214.6 316.5,215.6 320.5,217.2 325.5,219.8 330.7,223.1 336,227.1 340.6,231.1 344.6,235.1 348,239.1 350.3,242.6 351.9,246.1 352.5,249.1 352.4,250.6 352.1,251.6 350.9,253.1 348.5,254.1Z" fill="#232323"/>
<path d="M348.5,253.2L346,253.6 343.5,253.4 340,252.5 336.5,251.1 332.6,249.1 329,246.9 325.2,244.1 321.5,241 318,237.6 314.5,233.6 311.9,230.1 309.7,226.6 308.3,223.6 307.5,220.6 307.5,218.3 308.3,216.6 310,215.6 313,215.4 316.5,216.2 320.5,217.7 325,220 330,223.2 334.7,226.6 339.5,230.6 343.5,234.6 346.6,238.1 349,241.6 350.8,245.1 351.5,247.6 351.5,250.1 351.1,251.1 350.4,252.1 348.5,253.2Z" fill="#222222"/>
<path d="M346.5,252.7L344,252.7 341,252.2 338,251.2 334.5,249.6 327.9,245.6 324.5,243 321,239.9 317.7,236.6 314.7,233.1 312.5,230.1 310.4,226.6 309.1,223.6 308.4,221.1 308.5,219.1 309.1,217.6 310,216.9 311,216.4 313.5,216.3 317,217 321,218.5 325.9,221.1 330.6,224.1 335.3,227.6 339.9,231.6 343.8,235.6 346.7,239.1 348.9,242.6 350.2,245.6 350.6,248.6 350,250.6 348.5,252 346.5,252.7Z" fill="#212121"/>
<path d="M346.5,251.6L344,251.9 341.5,251.6 338.5,250.7 335.5,249.5 332,247.6 328.5,245.4 325,242.8 321.5,239.7 318.4,236.6 315.4,233.1 312.8,229.6 311.1,226.6 310.1,224.1 309.5,221.6 309.6,219.6 310.5,218.2 311.4,217.6 312.5,217.3 315,217.3 318,218 322,219.6 326.5,222.1 330.5,224.6 335.1,228.1 339.2,231.6 342.6,235.1 345.6,238.6 347.5,241.6 349,244.6 349.5,247.1 349.3,249.1 348.4,250.6 346.5,251.6Z" fill="#202020"/>
<path d="M345.5,250.7L343.5,250.9 341,250.6 338,249.8 335,248.6 331.5,246.7 328.5,244.7 322.1,239.6 316.5,233.6 314.2,230.6 312.4,227.6 311.3,225.1 310.7,222.6 310.8,220.6 311.5,219.3 313,218.5 315.5,218.3 318.5,219 322,220.3 326,222.4 330.3,225.1 334.3,228.1 338.4,231.6 341.9,235.1 344.4,238.1 346.4,241.1 347.8,244.1 348.4,246.6 348.1,248.6 347,250 345.5,250.7Z" fill="#1f1f1f"/>
<path d="M344,249.7L342,249.8 340,249.5 337.5,248.8 334.5,247.6 328.5,244 322.5,239.2 317.3,233.6 315.1,230.6 313.6,228.1 312.5,225.6 312,223.6 312,222 312.6,220.6 314,219.7 316,219.5 319,220 322,221.1 326,223.2 329.9,225.6 334,228.6 337.5,231.6 341,235.1 343.5,238.1 345.5,241.1 346.6,243.6 347,245.6 346.8,247.6 345.6,249.1 344,249.7Z" fill="#1e1e1e"/>
<path d="M343.5,248.3L342,248.6 340,248.5 337.5,247.9 335,246.9 329.5,243.9 324,239.6 319,234.6 315.4,229.6 314.2,227.1 313.6,225.1 313.5,223.1 314,221.9 315.2,221.1 317,220.8 319.5,221.2 322.5,222.3 326,224 329.4,226.1 336,231.2 339.1,234.1 341.5,236.8 343.5,239.6 344.8,242.1 345.5,244.1 345.5,246.1 344.6,247.6 343.5,248.3Z" fill="#1d1d1d"/>
<path d="M342,246.8L340.5,247.1 339,247 337,246.6 334.4,245.6 329.1,242.6 324,238.6 319.5,233.8 316.5,229.3 315.6,227.1 315.3,225.6 315.4,224.1 316,223.2 317.1,222.6 319,222.5 321.5,223 324,224 330,227.5 335.8,232.1 340.1,236.6 341.9,239.1 343,241.1 343.7,243.1 343.7,244.6 343.1,246.1 342,246.8Z" fill="#1c1c1c"/>
<path d="M339,245.1L336,244.7 332,243.1 328,240.5 324,237.1 320.8,233.6 318.5,230 317.6,227.1 317.7,226.1 318.3,225.1 319.5,224.6 321,224.6 323,225.1 325.5,226.1 330.5,229.1 335.3,233.1 338.9,237.1 340.2,239.1 341.1,241.1 341.4,242.6 341,244.1 340,244.9 339,245.1Z" fill="#1b1b1b"/>
</g>
<path d="M211.2,104.3L208.8,105.2 206.8,106.7 205.3,108.8 204.3,111.2 203.7,113.9 203.6,116.9 203.7,119.9 204.1,123.1 204.6,126.2 205.2,129.3 205.9,132.3 206.6,135.3 207.4,138.2 208.2,141 209,143.9 210,146.6 210.9,149.4 212,152.1 213,154.8 214.1,157.5 215.2,160.1 216.4,162.8 217.6,165.4 218.8,168.1 220.1,170.7 221.4,173.3 222.7,175.9 224.1,178.5 225.4,181 226.8,183.6 228.3,186.2 229.7,188.7 231.2,191.2 232.7,193.7 234.3,196.3 235.8,198.8 237.4,201.2 239,203.7 240.6,206.2 242.3,208.6 243.9,211.1 245.6,213.5 247.3,215.9 249,218.3 250.8,220.7 252.5,223.1 254.3,225.5 256.1,227.9 257.9,230.2 259.7,232.6 261.5,234.9 263.3,237.2 265.2,239.5 267.1,241.8 268.9,244.1 270.8,246.3 272.7,248.6 274.7,250.8 276.6,253 278.6,255.2 280.6,257.4 282.5,259.5 284.6,261.7 286.6,263.8 288.6,265.9 290.7,267.9 292.8,270 294.9,272 297.1,274 299.2,276 301.4,277.9 303.6,279.8 305.8,281.7 308,283.6 310.3,285.4 312.6,287.2 314.9,289 317.2,290.8 319.6,292.5 322,294.2 324.4,295.8 326.8,297.5 329.3,299 331.8,300.6 334.3,302.1 336.9,303.6 339.4,305 342,306.4 344.7,307.8 347.3,309.1 350,310.4 352.7,311.7 355.4,312.9 358.2,314 360.9,315.1 363.7,316.2 366.5,317.2 369.3,318.1 372.1,319 375,319.8 377.8,320.6 380.7,321.3 383.6,322 386.4,322.6 389.3,323.1 392.2,323.6 395.1,323.9 398,324.3 400.9,324.5 403.8,324.7 406.8,324.8 409.7,324.8 412.6,324.8 415.5,324.7 418.4,324.4 421.3,324.1 424.1,323.6 426.9,323 429.7,322.2 432.5,321.2 435.2,319.9 437.8,318.5 440.4,316.8 442.8,315 445.1,313 447.1,310.7 449,308.4 450.5,305.9 451.8,303.2 452.8,300.5 453.6,297.7 454,294.8 454.2,291.9 454.1,289 453.8,286.1 453.3,283.2 452.4,280.4 451.4,277.7 450.1,275.1 448.7,272.5 447.1,270.1 445.4,267.6 443.5,265.3 441.7,262.9 439.8,260.6 437.9,258.3 436,256 434.1,253.6 432.3,251.4 430.4,249.1 428.4,246.9 426.5,244.7 424.5,242.5 422.5,240.4 420.4,238.3 418.3,236.3 416.2,234.3 414,232.3 411.8,230.4 409.6,228.5 407.4,226.6 405.1,224.8 402.8,222.9 400.5,221.1 398.2,219.4 395.9,217.6 393.5,215.9 391.1,214.1 388.7,212.4 386.3,210.7 383.9,209 381.5,207.3 379.1,205.6 376.7,204 374.3,202.3 371.8,200.6 369.4,198.9 367,197.3 364.5,195.6 362.1,194 359.7,192.3 357.2,190.7 354.8,189 352.3,187.4 349.9,185.7 347.4,184.1 344.9,182.5 342.5,180.8 340,179.2 337.6,177.6 335.1,176 332.6,174.3 330.2,172.7 327.7,171.1 325.2,169.5 322.8,167.9 320.3,166.3 317.8,164.7 315.3,163.1 312.9,161.5 310.4,160 307.9,158.4 305.5,156.8 303,155.2 300.5,153.7 298,152.1 295.6,150.5 293.1,149 290.6,147.4 288.1,145.8 285.7,144.3 283.2,142.7 280.7,141.2 278.3,139.6 275.8,138.1 273.3,136.6 270.9,135 268.4,133.5 265.9,131.9 263.4,130.4 261,128.9 258.5,127.3 256,125.8 253.5,124.2 250.9,122.6 248.4,121.1 245.9,119.5 243.3,117.9 240.8,116.3 238.2,114.8 235.6,113.2 232.9,111.6 230.3,110.1 227.6,108.7 224.9,107.4 222.2,106.2 219.4,105.3 216.6,104.6 213.8,104.2Z" fill="none" stroke="#161616" stroke-width="2.5" stroke-linejoin="round"/>
<line x1="379.7" x2="379.7" y1="59.7" y2="375.3" stroke="#777" stroke-width="3.1" stroke-dasharray="6.1 6.4"/>
</g>
<path d="M166,58.9H483" stroke="#cdcdcd" stroke-width="1.2" fill="none"/>
<path d="M483.3,58.6V375.3" stroke="#707070" stroke-width="1" fill="none"/>
<path d="M166,58.1V375.3" stroke="#666" stroke-width="1.25" fill="none"/>
<path d="M165.5,375.4H483.5" stroke="#606060" stroke-width="1.3" fill="none"/>
<line x1="166" x2="170.6" y1="316.3" y2="316.3" stroke="#555" stroke-width="0.9"/>
<line x1="166" x2="170.6" y1="242.6" y2="242.6" stroke="#555" stroke-width="0.9"/>
<line x1="166" x2="170.6" y1="169" y2="169" stroke="#555" stroke-width="0.9"/>
<line x1="166" x2="170.6" y1="95.3" y2="95.3" stroke="#555" stroke-width="0.9"/>
<line x1="205.6" x2="205.6" y1="375.3" y2="370.8" stroke="#555" stroke-width="0.9"/>
<line x1="284.9" x2="284.9" y1="375.3" y2="370.8" stroke="#555" stroke-width="0.9"/>
<line x1="364.1" x2="364.1" y1="375.3" y2="370.8" stroke="#555" stroke-width="0.9"/>
<line x1="443.4" x2="443.4" y1="375.3" y2="370.8" stroke="#555" stroke-width="0.9"/>
<g font-family="'Liberation Sans', Arial, sans-serif" font-size="13.7" fill="#1a1a1a">
<text x="161.4" y="320.5" text-anchor="end">100</text>
<text x="161.4" y="246.8" text-anchor="end">150</text>
<text x="161.4" y="173.2" text-anchor="end">200</text>
<text x="161.4" y="99.5" text-anchor="end">250</text>
<text x="206" y="390.8" text-anchor="middle">0.3</text>
<text x="285.3" y="390.8" text-anchor="middle">0.4</text>
<text x="364.5" y="390.8" text-anchor="middle">0.5</text>
<text x="443.8" y="390.8" text-anchor="middle">0.6</text>
</g>
<text x="269.8" y="418.4" font-family="'Liberation Sans', Arial, sans-serif" font-size="14.3" fill="#1a1a1a">Max Growth (<tspan font-style="italic">d</tspan><tspan font-size="9.6" dy="-5.2">−1</tspan><tspan dy="5.2">)</tspan></text>
<text transform="translate(123.1,240.2) rotate(-90)" font-family="'Liberation Sans', Arial, sans-serif" font-size="14" fill="#1a1a1a">TER<tspan font-style="italic" font-size="9.6" dx="2.4" dy="2.2">C:P</tspan></text>
<text x="179.3" y="82.4" font-family="'DejaVu Sans', sans-serif" class="lb" font-weight="bold" font-size="20.8" fill="#111">a</text>
</g>
<g id="panel-b">
<path d="M560.3,183.9L561.8,183.8 563.3,183.6 564.8,183.5 566.3,183.3 567.8,183.1 569.3,182.8 570.8,182.5 572.3,182.2 573.8,181.8 575.3,181.3 576.8,180.7 578.3,180.1 579.8,179.3 581.3,178.5 582.8,177.5 584.3,176.4 585.8,175.1 587.3,173.7 588.8,172 590.3,170.2 591.8,168.2 593.3,166 594.8,163.5 596.3,160.8 597.8,157.9 599.3,154.6 600.8,151.1 602.3,147.4 603.8,143.3 605.3,139 606.8,134.4 608.3,129.6 609.8,124.5 611.3,119.2 612.8,113.7 614.3,108 615.8,102.2 617.3,96.2 618.8,90.2 620.3,84.1 621.8,78 623.3,72 624.8,66.1 626.3,60.3 627.8,54.7 629.3,49.4 630.8,44.4 632.3,39.8 633.8,35.6 635.3,31.8 636.8,28.5 638.3,25.7 639.8,23.5 641.3,21.9 642.8,20.8 644.3,20.4 645.8,20.6 647.3,21.4 648.8,22.8 650.3,24.8 651.8,27.3 653.3,30.4 654.8,34 656.3,38.1 657.8,42.5 659.3,47.4 660.8,52.6 662.3,58 663.8,63.7 665.3,69.6 666.8,75.6 668.3,81.6 669.8,87.7 671.3,93.8 672.8,99.8 674.3,105.7 675.8,111.5 677.3,117 678.8,122.4 680.3,127.6 681.8,132.5 683.3,137.2 684.8,141.6 686.3,145.8 687.8,149.7 689.3,153.3 690.8,156.6 692.3,159.7 693.8,162.5 695.3,165 696.8,167.4 698.3,169.5 699.8,171.3 701.3,173 702.8,174.5 704.3,175.9 705.8,177.1 707.3,178.1 708.8,179 710.3,179.8 711.8,180.5 713.3,181.1 714.8,181.6 716.3,182 717.8,182.4 719.3,182.7 720.8,183 722.3,183.2 723.8,183.4 725.3,183.6 726.8,183.7 728.3,183.8 729.8,183.9 731.3,184 732.8,184 734.3,184.1 735.8,184.1 737.3,184.2 738.8,184.2" fill="none" stroke="#111" stroke-width="3.25" stroke-linejoin="round" stroke-linecap="butt"/>
<path d="M560.3,184.3V5.7H739.9" stroke="#2a2a2a" stroke-width="1.15" fill="none"/>
<path d="M739.9,5.7V184.3" stroke="#777" stroke-width="1" fill="none"/>
<path d="M560.3,184.3H739.9" stroke="#555" stroke-width="1" fill="none"/>
<g font-family="'Liberation Sans', Arial, sans-serif" font-size="14" fill="#1a1a1a">
<text x="554.2" y="10.6" text-anchor="end">0.1</text>
<text x="555.2" y="190.2" text-anchor="end">0</text>
<text x="561.8" y="204.6" text-anchor="middle">80</text>
<text x="726" y="204.6">200</text>
</g>
<text x="625.4" y="221.6" font-family="'Liberation Sans', Arial, sans-serif" font-size="14.5" fill="#1a1a1a">TER<tspan font-style="italic" font-size="10.6" dx="3" dy="2.6">C:P</tspan></text>
<text transform="translate(523.6,130.4) rotate(-90)" font-family="'Liberation Sans', Arial, sans-serif" font-size="14.8" fill="#1a1a1a">Probability</text>
<text x="569.4" y="31.5" font-family="'DejaVu Sans', sans-serif" class="lb" font-weight="bold" font-size="21" fill="#111">b</text>
</g>
<g id="panel-c">
<defs>
<clipPath id="cc"><rect x="559.7" y="234.7" width="181.29999999999995" height="181.90000000000003"/></clipPath>
<clipPath id="cban"><path d="M567.8,215L568.3,217.5 568.8,219.9 569.2,222.4 569.6,224.9 570,227.4 570.4,229.9 570.7,232.5 571.1,235 571.4,237.5 571.8,240 572.1,242.5 572.5,245 572.9,247.5 573.3,250 573.8,252.5 574.3,255 574.9,257.5 575.5,259.9 576.1,262.4 576.7,264.8 577.4,267.2 578.1,269.7 578.8,272.1 579.5,274.5 580.2,276.9 580.9,279.3 581.7,281.8 582.4,284.2 583.1,286.6 583.8,289.1 584.5,291.5 585.2,293.9 585.9,296.4 586.6,298.8 587.3,301.3 588,303.7 588.7,306.2 589.5,308.6 590.2,311 591,313.4 591.9,315.8 592.7,318.2 593.6,320.5 594.6,322.8 595.6,325.2 596.7,327.4 597.8,329.7 599,331.9 600.2,334.1 601.5,336.3 602.8,338.4 604.2,340.5 605.6,342.6 607.1,344.7 608.6,346.8 610.1,348.8 611.6,350.9 613.1,352.9 614.7,354.9 616.2,356.9 617.8,358.9 619.4,360.9 621,362.8 622.6,364.8 624.3,366.7 625.9,368.6 627.6,370.5 629.2,372.4 630.9,374.3 632.7,376.1 634.4,377.9 636.2,379.7 638,381.5 639.8,383.2 641.6,384.9 643.5,386.6 645.4,388.2 647.3,389.9 649.3,391.4 651.2,393 653.3,394.5 655.3,396 657.4,397.5 659.5,398.9 661.7,400.3 663.9,401.6 666.1,402.8 668.4,404 670.7,405.1 673.1,406.1 675.5,406.9 678,407.7 680.5,408.3 683.1,408.8 685.7,409.1 688.4,409.2 691,409.2 693.5,408.9 696,408.4 698.4,407.7 700.6,406.7 702.6,405.4 704.4,403.9 706,402.1 707.3,400.2 708.4,398 709.2,395.8 709.7,393.4 709.8,391 709.7,388.5 709.3,386 708.6,383.4 707.8,381 706.7,378.5 705.5,376.1 704.2,373.9 702.7,371.7 701.2,369.6 699.6,367.7 697.9,365.8 696.1,364 694.3,362.3 692.4,360.7 690.4,359.2 688.4,357.7 686.3,356.2 684.2,354.8 682,353.5 679.8,352.2 677.6,350.9 675.4,349.6 673.2,348.4 671,347.1 668.7,345.9 666.5,344.6 664.3,343.3 662.1,342 659.9,340.7 657.8,339.4 655.7,338 653.6,336.5 651.6,335.1 649.6,333.6 647.6,332.1 645.7,330.5 643.7,328.9 641.7,327.4 639.7,325.8 637.8,324.2 635.8,322.6 633.8,321 631.8,319.3 629.9,317.7 628,316 626.1,314.2 624.4,312.4 622.6,310.6 621,308.7 619.3,306.8 617.8,304.8 616.3,302.8 614.8,300.7 613.4,298.6 612.1,296.5 610.8,294.4 609.5,292.2 608.2,290 607,287.8 605.8,285.5 604.6,283.3 603.5,281 602.4,278.8 601.3,276.5 600.2,274.2 599.1,271.9 598.1,269.6 597.1,267.3 596.1,264.9 595.1,262.6 594.1,260.3 593.1,257.9 592.2,255.6 591.3,253.2 590.4,250.8 589.5,248.5 588.6,246.1 587.7,243.7 586.8,241.3 586,238.9 585.1,236.6 584.3,234.2 583.5,231.8 582.7,229.4 581.9,227 581.1,224.6 580.3,222.2 579.5,219.8 578.7,217.4 577.9,215Z"/></clipPath>
<clipPath id="ce1"><path d="M600.7,292.5L599.7,293.3 598.9,294.5 598.3,295.9 597.9,297.6 597.5,299.3 597.4,300.9 597.3,302.6 597.3,304.3 597.5,305.9 597.6,307.6 597.9,309.2 598.2,310.8 598.5,312.4 598.8,314 599.2,315.6 599.5,317.1 599.9,318.7 600.3,320.2 600.7,321.8 601.1,323.3 601.6,324.8 602.1,326.3 602.6,327.7 603.1,329.2 603.6,330.7 604.2,332.1 604.8,333.6 605.4,335 606,336.5 606.7,337.9 607.4,339.3 608.2,340.7 608.9,342.1 609.7,343.6 610.6,345 611.5,346.4 612.4,347.7 613.4,349.1 614.4,350.4 615.5,351.7 616.6,352.9 617.8,354 619.1,355 620.4,355.9 621.9,356.7 623.4,357.3 624.9,357.8 626.4,357.9 627.9,357.8 629.3,357.3 630.6,356.4 631.7,355.4 632.7,354.2 633.5,352.9 634.1,351.5 634.4,350 634.7,348.5 634.7,346.9 634.7,345.3 634.5,343.6 634.2,342 633.8,340.3 633.3,338.6 632.8,337 632.2,335.4 631.6,333.8 631,332.3 630.4,330.8 629.7,329.4 629.1,328 628.4,326.6 627.7,325.2 627,323.9 626.3,322.5 625.6,321.1 624.8,319.7 624.1,318.3 623.3,316.9 622.6,315.5 621.8,314.1 621.1,312.7 620.3,311.3 619.5,309.8 618.7,308.4 617.9,307 617.1,305.5 616.3,304.1 615.4,302.8 614.5,301.4 613.5,300.1 612.4,298.9 611.4,297.7 610.2,296.6 608.9,295.5 607.6,294.5 606.2,293.6 604.7,292.9 603.3,292.4 601.9,292.3Z"/></clipPath>
<clipPath id="ce2"><path d="M627.1,341.5L627.4,339.9 628,338.3 628.8,336.8 629.8,335.5 631,334.3 632.3,333.3 633.8,332.5 635.5,332 637.2,331.6 639,331.4 640.8,331.4 642.7,331.6 644.6,331.9 646.4,332.3 648.2,332.9 649.9,333.6 651.5,334.3 653.1,335.2 654.6,336.2 656,337.2 657.3,338.3 658.6,339.5 659.8,340.8 661,342.1 662.1,343.4 663.2,344.8 664.2,346.2 665.3,347.7 666.3,349.2 667.2,350.6 668.2,352.1 669.1,353.6 670.1,355.1 671,356.6 671.9,358.1 672.9,359.6 673.8,361.1 674.7,362.7 675.6,364.2 676.6,365.8 677.5,367.4 678.4,369.1 679.2,370.8 679.9,372.4 680.4,374.2 680.7,375.9 680.7,377.7 680.6,379.4 680.3,381.1 679.8,382.8 679.1,384.4 678.3,386 677.3,387.5 676.2,388.8 675,390.1 673.7,391.2 672.3,392.2 670.8,393 669.2,393.6 667.6,394 666,394.1 664.3,394.1 662.6,393.9 660.9,393.5 659.2,392.9 657.5,392.1 655.8,391.3 654.2,390.3 652.6,389.2 651,388 649.5,386.8 648.1,385.5 646.8,384.2 645.5,382.9 644.3,381.5 643.2,380.2 642.2,378.8 641.2,377.4 640.3,376 639.4,374.5 638.6,373.1 637.8,371.6 637,370.1 636.3,368.5 635.6,367 634.9,365.4 634.1,363.8 633.4,362.2 632.7,360.5 632,358.9 631.2,357.2 630.5,355.4 629.7,353.7 629,351.9 628.3,350.2 627.7,348.4 627.3,346.7 627,344.9 626.9,343.2Z"/></clipPath>
<filter id="b2" color-interpolation-filters="sRGB" x="-20%" y="-20%" width="140%" height="140%"><feGaussianBlur stdDeviation="2.6"/></filter>
<filter id="b4" color-interpolation-filters="sRGB" x="-30%" y="-30%" width="160%" height="160%"><feGaussianBlur stdDeviation="5.5"/></filter>
<filter id="b3" color-interpolation-filters="sRGB" x="-20%" y="-20%" width="140%" height="140%"><feGaussianBlur stdDeviation="4"/></filter>
<radialGradient id="g1" cx="0" cy="0" r="1" gradientUnits="userSpaceOnUse" gradientTransform="translate(616.8,324.8) rotate(65) scale(38,12.5)"><stop offset="0.00" stop-color="#3c3c3c"/><stop offset="0.15" stop-color="#404040"/><stop offset="0.30" stop-color="#4a4a4a"/><stop offset="0.45" stop-color="#5b5b5b"/><stop offset="0.60" stop-color="#6f6f6f"/><stop offset="0.75" stop-color="#868686"/><stop offset="0.90" stop-color="#9d9d9d"/><stop offset="1.00" stop-color="#acacac"/></radialGradient>
<radialGradient id="g2" cx="0" cy="0" r="1" gradientUnits="userSpaceOnUse" gradientTransform="translate(655,363) rotate(46) scale(38,18.5)"><stop offset="0.00" stop-color="#303030"/><stop offset="0.15" stop-color="#343434"/><stop offset="0.30" stop-color="#3f3f3f"/><stop offset="0.45" stop-color="#515151"/><stop offset="0.60" stop-color="#676767"/><stop offset="0.75" stop-color="#7f7f7f"/><stop offset="0.90" stop-color="#979797"/><stop offset="1.00" stop-color="#a7a7a7"/></radialGradient>
</defs>
<g clip-path="url(#cc)">
<g clip-path="url(#cban)">
<path d="M567.8,215L568.3,217.5 568.8,219.9 569.2,222.4 569.6,224.9 570,227.4 570.4,229.9 570.7,232.5 571.1,235 571.4,237.5 571.8,240 572.1,242.5 572.5,245 572.9,247.5 573.3,250 573.8,252.5 574.3,255 574.9,257.5 575.5,259.9 576.1,262.4 576.7,264.8 577.4,267.2 578.1,269.7 578.8,272.1 579.5,274.5 580.2,276.9 580.9,279.3 581.7,281.8 582.4,284.2 583.1,286.6 583.8,289.1 584.5,291.5 585.2,293.9 585.9,296.4 586.6,298.8 587.3,301.3 588,303.7 588.7,306.2 589.5,308.6 590.2,311 591,313.4 591.9,315.8 592.7,318.2 593.6,320.5 594.6,322.8 595.6,325.2 596.7,327.4 597.8,329.7 599,331.9 600.2,334.1 601.5,336.3 602.8,338.4 604.2,340.5 605.6,342.6 607.1,344.7 608.6,346.8 610.1,348.8 611.6,350.9 613.1,352.9 614.7,354.9 616.2,356.9 617.8,358.9 619.4,360.9 621,362.8 622.6,364.8 624.3,366.7 625.9,368.6 627.6,370.5 629.2,372.4 630.9,374.3 632.7,376.1 634.4,377.9 636.2,379.7 638,381.5 639.8,383.2 641.6,384.9 643.5,386.6 645.4,388.2 647.3,389.9 649.3,391.4 651.2,393 653.3,394.5 655.3,396 657.4,397.5 659.5,398.9 661.7,400.3 663.9,401.6 666.1,402.8 668.4,404 670.7,405.1 673.1,406.1 675.5,406.9 678,407.7 680.5,408.3 683.1,408.8 685.7,409.1 688.4,409.2 691,409.2 693.5,408.9 696,408.4 698.4,407.7 700.6,406.7 702.6,405.4 704.4,403.9 706,402.1 707.3,400.2 708.4,398 709.2,395.8 709.7,393.4 709.8,391 709.7,388.5 709.3,386 708.6,383.4 707.8,381 706.7,378.5 705.5,376.1 704.2,373.9 702.7,371.7 701.2,369.6 699.6,367.7 697.9,365.8 696.1,364 694.3,362.3 692.4,360.7 690.4,359.2 688.4,357.7 686.3,356.2 684.2,354.8 682,353.5 679.8,352.2 677.6,350.9 675.4,349.6 673.2,348.4 671,347.1 668.7,345.9 666.5,344.6 664.3,343.3 662.1,342 659.9,340.7 657.8,339.4 655.7,338 653.6,336.5 651.6,335.1 649.6,333.6 647.6,332.1 645.7,330.5 643.7,328.9 641.7,327.4 639.7,325.8 637.8,324.2 635.8,322.6 633.8,321 631.8,319.3 629.9,317.7 628,316 626.1,314.2 624.4,312.4 622.6,310.6 621,308.7 619.3,306.8 617.8,304.8 616.3,302.8 614.8,300.7 613.4,298.6 612.1,296.5 610.8,294.4 609.5,292.2 608.2,290 607,287.8 605.8,285.5 604.6,283.3 603.5,281 602.4,278.8 601.3,276.5 600.2,274.2 599.1,271.9 598.1,269.6 597.1,267.3 596.1,264.9 595.1,262.6 594.1,260.3 593.1,257.9 592.2,255.6 591.3,253.2 590.4,250.8 589.5,248.5 588.6,246.1 587.7,243.7 586.8,241.3 586,238.9 585.1,236.6 584.3,234.2 583.5,231.8 582.7,229.4 581.9,227 581.1,224.6 580.3,222.2 579.5,219.8 578.7,217.4 577.9,215Z" fill="#dedede"/>
<path d="M572.8,215L573.4,217.8 574.1,220.5 574.8,223.2 575.5,225.9 576.2,228.6 576.9,231.4 577.6,234.1 578.4,236.8 579.1,239.5 579.9,242.2 580.7,244.9 581.5,247.6 582.3,250.3 583.1,253 583.9,255.6 584.7,258.3 585.6,261 586.4,263.7 587.3,266.4 588.2,269.1 589,271.8 590,274.4 590.9,277.1 591.8,279.8 592.8,282.5 593.8,285.1 594.8,287.7 595.8,290.4 596.9,293 598,295.6 599.1,298.2 600.3,300.7 601.5,303.2 602.8,305.7 604.1,308.2 605.4,310.7 606.8,313.1 608.2,315.5 609.7,317.9 611.2,320.2 612.8,322.5 614.4,324.7 616.1,327 617.8,329.1 619.6,331.3 621.4,333.4 623.3,335.5 625.2,337.6 627.1,339.6 629.1,341.6 631.1,343.6 633.1,345.6 635.2,347.5 637.3,349.4 639.4,351.3 641.5,353.1 643.7,355 645.8,356.8 648,358.6 650.2,360.4 652.5,362.2 654.7,363.9 656.9,365.7 659.2,367.4 661.4,369.1 663.7,370.8 666,372.5 668.2,374.2 670.5,375.9 672.7,377.6 675,379.3 677.2,380.9 679.5,382.6 681.7,384.2 684,385.9 686.2,387.5 688.5,389.2 690.7,390.8 692.9,392.5" fill="none" stroke="#7c7c7c" stroke-width="11" stroke-linecap="round" filter="url(#b2)"/>
<path d="M593.8,285.1L594.8,287.7 595.8,290.4 596.9,293 598,295.6 599.1,298.2 600.3,300.7 601.5,303.2 602.8,305.7 604.1,308.2 605.4,310.7 606.8,313.1 608.2,315.5 609.7,317.9 611.2,320.2 612.8,322.5 614.4,324.7 616.1,327 617.8,329.1 619.6,331.3 621.4,333.4 623.3,335.5 625.2,337.6 627.1,339.6 629.1,341.6 631.1,343.6 633.1,345.6 635.2,347.5 637.3,349.4 639.4,351.3 641.5,353.1 643.7,355 645.8,356.8 648,358.6 650.2,360.4 652.5,362.2 654.7,363.9 656.9,365.7 659.2,367.4 661.4,369.1 663.7,370.8 666,372.5 668.2,374.2 670.5,375.9 672.7,377.6 675,379.3" fill="none" stroke="#6c6c6c" stroke-width="11" stroke-linecap="round" filter="url(#b3)"/>
<ellipse cx="0" cy="0" rx="33" ry="13" transform="translate(665,372.5) rotate(38)" fill="#5a5a5a" filter="url(#b4)"/>
</g>
<g clip-path="url(#ce1)"><path d="M600.7,292.5L599.7,293.3 598.9,294.5 598.3,295.9 597.9,297.6 597.5,299.3 597.4,300.9 597.3,302.6 597.3,304.3 597.5,305.9 597.6,307.6 597.9,309.2 598.2,310.8 598.5,312.4 598.8,314 599.2,315.6 599.5,317.1 599.9,318.7 600.3,320.2 600.7,321.8 601.1,323.3 601.6,324.8 602.1,326.3 602.6,327.7 603.1,329.2 603.6,330.7 604.2,332.1 604.8,333.6 605.4,335 606,336.5 606.7,337.9 607.4,339.3 608.2,340.7 608.9,342.1 609.7,343.6 610.6,345 611.5,346.4 612.4,347.7 613.4,349.1 614.4,350.4 615.5,351.7 616.6,352.9 617.8,354 619.1,355 620.4,355.9 621.9,356.7 623.4,357.3 624.9,357.8 626.4,357.9 627.9,357.8 629.3,357.3 630.6,356.4 631.7,355.4 632.7,354.2 633.5,352.9 634.1,351.5 634.4,350 634.7,348.5 634.7,346.9 634.7,345.3 634.5,343.6 634.2,342 633.8,340.3 633.3,338.6 632.8,337 632.2,335.4 631.6,333.8 631,332.3 630.4,330.8 629.7,329.4 629.1,328 628.4,326.6 627.7,325.2 627,323.9 626.3,322.5 625.6,321.1 624.8,319.7 624.1,318.3 623.3,316.9 622.6,315.5 621.8,314.1 621.1,312.7 620.3,311.3 619.5,309.8 618.7,308.4 617.9,307 617.1,305.5 616.3,304.1 615.4,302.8 614.5,301.4 613.5,300.1 612.4,298.9 611.4,297.7 610.2,296.6 608.9,295.5 607.6,294.5 606.2,293.6 604.7,292.9 603.3,292.4 601.9,292.3Z" fill="url(#g1)"/></g>
<g clip-path="url(#ce2)"><path d="M627.1,341.5L627.4,339.9 628,338.3 628.8,336.8 629.8,335.5 631,334.3 632.3,333.3 633.8,332.5 635.5,332 637.2,331.6 639,331.4 640.8,331.4 642.7,331.6 644.6,331.9 646.4,332.3 648.2,332.9 649.9,333.6 651.5,334.3 653.1,335.2 654.6,336.2 656,337.2 657.3,338.3 658.6,339.5 659.8,340.8 661,342.1 662.1,343.4 663.2,344.8 664.2,346.2 665.3,347.7 666.3,349.2 667.2,350.6 668.2,352.1 669.1,353.6 670.1,355.1 671,356.6 671.9,358.1 672.9,359.6 673.8,361.1 674.7,362.7 675.6,364.2 676.6,365.8 677.5,367.4 678.4,369.1 679.2,370.8 679.9,372.4 680.4,374.2 680.7,375.9 680.7,377.7 680.6,379.4 680.3,381.1 679.8,382.8 679.1,384.4 678.3,386 677.3,387.5 676.2,388.8 675,390.1 673.7,391.2 672.3,392.2 670.8,393 669.2,393.6 667.6,394 666,394.1 664.3,394.1 662.6,393.9 660.9,393.5 659.2,392.9 657.5,392.1 655.8,391.3 654.2,390.3 652.6,389.2 651,388 649.5,386.8 648.1,385.5 646.8,384.2 645.5,382.9 644.3,381.5 643.2,380.2 642.2,378.8 641.2,377.4 640.3,376 639.4,374.5 638.6,373.1 637.8,371.6 637,370.1 636.3,368.5 635.6,367 634.9,365.4 634.1,363.8 633.4,362.2 632.7,360.5 632,358.9 631.2,357.2 630.5,355.4 629.7,353.7 629,351.9 628.3,350.2 627.7,348.4 627.3,346.7 627,344.9 626.9,343.2Z" fill="url(#g2)"/></g>
<path d="M567.8,215L568.3,217.5 568.8,219.9 569.2,222.4 569.6,224.9 570,227.4 570.4,229.9 570.7,232.5 571.1,235 571.4,237.5 571.8,240 572.1,242.5 572.5,245 572.9,247.5 573.3,250 573.8,252.5 574.3,255 574.9,257.5 575.5,259.9 576.1,262.4 576.7,264.8 577.4,267.2 578.1,269.7 578.8,272.1 579.5,274.5 580.2,276.9 580.9,279.3 581.7,281.8 582.4,284.2 583.1,286.6 583.8,289.1 584.5,291.5 585.2,293.9 585.9,296.4 586.6,298.8 587.3,301.3 588,303.7 588.7,306.2 589.5,308.6 590.2,311 591,313.4 591.9,315.8 592.7,318.2 593.6,320.5 594.6,322.8 595.6,325.2 596.7,327.4 597.8,329.7 599,331.9 600.2,334.1 601.5,336.3 602.8,338.4 604.2,340.5 605.6,342.6 607.1,344.7 608.6,346.8 610.1,348.8 611.6,350.9 613.1,352.9 614.7,354.9 616.2,356.9 617.8,358.9 619.4,360.9 621,362.8 622.6,364.8 624.3,366.7 625.9,368.6 627.6,370.5 629.2,372.4 630.9,374.3 632.7,376.1 634.4,377.9 636.2,379.7 638,381.5 639.8,383.2 641.6,384.9 643.5,386.6 645.4,388.2 647.3,389.9 649.3,391.4 651.2,393 653.3,394.5 655.3,396 657.4,397.5 659.5,398.9 661.7,400.3 663.9,401.6 666.1,402.8 668.4,404 670.7,405.1 673.1,406.1 675.5,406.9 678,407.7 680.5,408.3 683.1,408.8 685.7,409.1 688.4,409.2 691,409.2 693.5,408.9 696,408.4 698.4,407.7 700.6,406.7 702.6,405.4 704.4,403.9 706,402.1 707.3,400.2 708.4,398 709.2,395.8 709.7,393.4 709.8,391 709.7,388.5 709.3,386 708.6,383.4 707.8,381 706.7,378.5 705.5,376.1 704.2,373.9 702.7,371.7 701.2,369.6 699.6,367.7 697.9,365.8 696.1,364 694.3,362.3 692.4,360.7 690.4,359.2 688.4,357.7 686.3,356.2 684.2,354.8 682,353.5 679.8,352.2 677.6,350.9 675.4,349.6 673.2,348.4 671,347.1 668.7,345.9 666.5,344.6 664.3,343.3 662.1,342 659.9,340.7 657.8,339.4 655.7,338 653.6,336.5 651.6,335.1 649.6,333.6 647.6,332.1 645.7,330.5 643.7,328.9 641.7,327.4 639.7,325.8 637.8,324.2 635.8,322.6 633.8,321 631.8,319.3 629.9,317.7 628,316 626.1,314.2 624.4,312.4 622.6,310.6 621,308.7 619.3,306.8 617.8,304.8 616.3,302.8 614.8,300.7 613.4,298.6 612.1,296.5 610.8,294.4 609.5,292.2 608.2,290 607,287.8 605.8,285.5 604.6,283.3 603.5,281 602.4,278.8 601.3,276.5 600.2,274.2 599.1,271.9 598.1,269.6 597.1,267.3 596.1,264.9 595.1,262.6 594.1,260.3 593.1,257.9 592.2,255.6 591.3,253.2 590.4,250.8 589.5,248.5 588.6,246.1 587.7,243.7 586.8,241.3 586,238.9 585.1,236.6 584.3,234.2 583.5,231.8 582.7,229.4 581.9,227 581.1,224.6 580.3,222.2 579.5,219.8 578.7,217.4 577.9,215" fill="none" stroke="#1a1a1a" stroke-width="2.6" stroke-linejoin="round"/>
<path d="M600.7,292.5L599.7,293.3 598.9,294.5 598.3,295.9 597.9,297.6 597.5,299.3 597.4,300.9 597.3,302.6 597.3,304.3 597.5,305.9 597.6,307.6 597.9,309.2 598.2,310.8 598.5,312.4 598.8,314 599.2,315.6 599.5,317.1 599.9,318.7 600.3,320.2 600.7,321.8 601.1,323.3 601.6,324.8 602.1,326.3 602.6,327.7 603.1,329.2 603.6,330.7 604.2,332.1 604.8,333.6 605.4,335 606,336.5 606.7,337.9 607.4,339.3 608.2,340.7 608.9,342.1 609.7,343.6 610.6,345 611.5,346.4 612.4,347.7 613.4,349.1 614.4,350.4 615.5,351.7 616.6,352.9 617.8,354 619.1,355 620.4,355.9 621.9,356.7 623.4,357.3 624.9,357.8 626.4,357.9 627.9,357.8 629.3,357.3 630.6,356.4 631.7,355.4 632.7,354.2 633.5,352.9 634.1,351.5 634.4,350 634.7,348.5 634.7,346.9 634.7,345.3 634.5,343.6 634.2,342 633.8,340.3 633.3,338.6 632.8,337 632.2,335.4 631.6,333.8 631,332.3 630.4,330.8 629.7,329.4 629.1,328 628.4,326.6 627.7,325.2 627,323.9 626.3,322.5 625.6,321.1 624.8,319.7 624.1,318.3 623.3,316.9 622.6,315.5 621.8,314.1 621.1,312.7 620.3,311.3 619.5,309.8 618.7,308.4 617.9,307 617.1,305.5 616.3,304.1 615.4,302.8 614.5,301.4 613.5,300.1 612.4,298.9 611.4,297.7 610.2,296.6 608.9,295.5 607.6,294.5 606.2,293.6 604.7,292.9 603.3,292.4 601.9,292.3Z" fill="none" stroke="#1a1a1a" stroke-width="2.6" stroke-linejoin="round"/>
<path d="M627.1,341.5L627.4,339.9 628,338.3 628.8,336.8 629.8,335.5 631,334.3 632.3,333.3 633.8,332.5 635.5,332 637.2,331.6 639,331.4 640.8,331.4 642.7,331.6 644.6,331.9 646.4,332.3 648.2,332.9 649.9,333.6 651.5,334.3 653.1,335.2 654.6,336.2 656,337.2 657.3,338.3 658.6,339.5 659.8,340.8 661,342.1 662.1,343.4 663.2,344.8 664.2,346.2 665.3,347.7 666.3,349.2 667.2,350.6 668.2,352.1 669.1,353.6 670.1,355.1 671,356.6 671.9,358.1 672.9,359.6 673.8,361.1 674.7,362.7 675.6,364.2 676.6,365.8 677.5,367.4 678.4,369.1 679.2,370.8 679.9,372.4 680.4,374.2 680.7,375.9 680.7,377.7 680.6,379.4 680.3,381.1 679.8,382.8 679.1,384.4 678.3,386 677.3,387.5 676.2,388.8 675,390.1 673.7,391.2 672.3,392.2 670.8,393 669.2,393.6 667.6,394 666,394.1 664.3,394.1 662.6,393.9 660.9,393.5 659.2,392.9 657.5,392.1 655.8,391.3 654.2,390.3 652.6,389.2 651,388 649.5,386.8 648.1,385.5 646.8,384.2 645.5,382.9 644.3,381.5 643.2,380.2 642.2,378.8 641.2,377.4 640.3,376 639.4,374.5 638.6,373.1 637.8,371.6 637,370.1 636.3,368.5 635.6,367 634.9,365.4 634.1,363.8 633.4,362.2 632.7,360.5 632,358.9 631.2,357.2 630.5,355.4 629.7,353.7 629,351.9 628.3,350.2 627.7,348.4 627.3,346.7 627,344.9 626.9,343.2Z" fill="none" stroke="#1a1a1a" stroke-width="2.6" stroke-linejoin="round"/>
</g>
<path d="M559.7,234.7H741" stroke="#999" stroke-width="1" fill="none"/>
<path d="M741,234.7V416.6" stroke="#999" stroke-width="1" fill="none"/>
<path d="M559.7,234.2V416.6H741.5" stroke="#555" stroke-width="1" fill="none"/>
<line x1="559.7" x2="563.4" y1="255" y2="255" stroke="#444" stroke-width="0.9"/>
<line x1="559.7" x2="563.4" y1="389.4" y2="389.4" stroke="#444" stroke-width="0.9"/>
<line x1="572.4" x2="572.4" y1="416.6" y2="413" stroke="#444" stroke-width="0.9"/>
<line x1="728.2" x2="728.2" y1="416.6" y2="413" stroke="#444" stroke-width="0.9"/>
<g font-family="'Liberation Sans', Arial, sans-serif" font-size="14" fill="#1a1a1a">
<text text-anchor="end" x="554.6" y="260">300</text>
<text x="554.6" y="394.4" text-anchor="end">100</text>
<text x="572.4" y="436.4" text-anchor="middle">0.2</text>
<text x="728.2" y="436.4" text-anchor="middle">0.8</text>
</g>
<text x="593.4" y="462.2" font-family="'Liberation Sans', Arial, sans-serif" font-size="15.25" fill="#1a1a1a">Max Growth (<tspan font-style="italic">d</tspan><tspan font-size="10.3" dy="-5.6">−1</tspan><tspan dy="5.6">)</tspan></text>
<text transform="translate(524.8,354.6) rotate(-90)" font-family="'Liberation Sans', Arial, sans-serif" font-size="14.5" fill="#1a1a1a">TER<tspan font-style="italic" font-size="10.6" dx="3" dy="2.6">C:P</tspan></text>
<text x="607" y="257" font-family="'DejaVu Sans', sans-serif" class="lb" font-weight="bold" font-size="21.5" fill="#111">c</text>
</g>
</svg>
</body></html>
